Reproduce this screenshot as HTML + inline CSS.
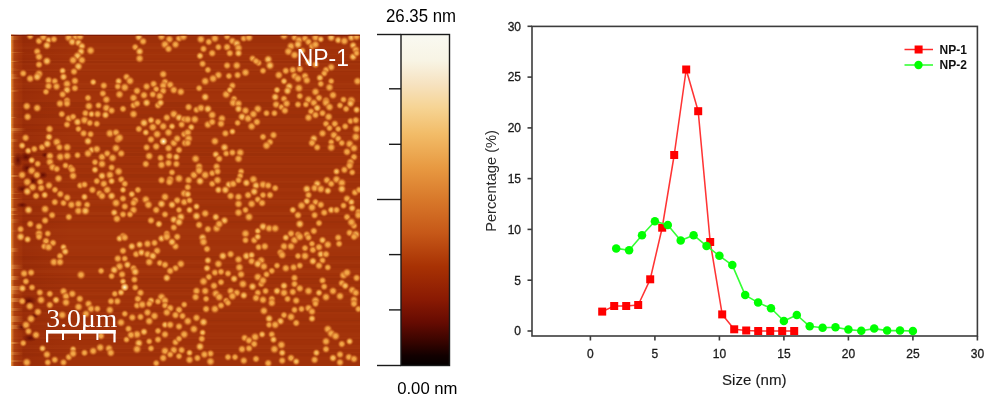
<!DOCTYPE html>
<html><head><meta charset="utf-8">
<style>
html,body{margin:0;padding:0;background:#fff;width:1000px;height:404px;overflow:hidden}
svg{position:absolute;left:0;top:0;will-change:transform}
text{font-family:"Liberation Sans",sans-serif}
</style></head><body>
<svg width="1000" height="404" viewBox="0 0 1000 404">
<defs>
<linearGradient id="cb" x1="0" y1="0" x2="0" y2="1">
<stop offset="0" stop-color="#f9f9f2"/>
<stop offset="0.08" stop-color="#f8f4e4"/>
<stop offset="0.15" stop-color="#f6e2c0"/>
<stop offset="0.22" stop-color="#f6d494"/>
<stop offset="0.3" stop-color="#f2bc68"/>
<stop offset="0.4" stop-color="#e89a42"/>
<stop offset="0.5" stop-color="#d8782a"/>
<stop offset="0.6" stop-color="#c65818"/>
<stop offset="0.7" stop-color="#a83204"/>
<stop offset="0.8" stop-color="#8a1a03"/>
<stop offset="0.87" stop-color="#660b02"/>
<stop offset="0.93" stop-color="#360400"/>
<stop offset="0.97" stop-color="#120000"/>
<stop offset="1" stop-color="#040000"/>
</linearGradient>
<radialGradient id="b1">
<stop offset="0" stop-color="#f4ae4e" stop-opacity="1"/>
<stop offset="0.33" stop-color="#ee9e40" stop-opacity="1"/>
<stop offset="0.58" stop-color="#dc7e2e" stop-opacity="0.75"/>
<stop offset="0.8" stop-color="#c65e1c" stop-opacity="0.32"/>
<stop offset="1" stop-color="#b84a10" stop-opacity="0"/>
</radialGradient>
<radialGradient id="b2">
<stop offset="0" stop-color="#f8c470" stop-opacity="1"/>
<stop offset="0.33" stop-color="#f2ac4c" stop-opacity="1"/>
<stop offset="0.58" stop-color="#de8432" stop-opacity="0.75"/>
<stop offset="0.8" stop-color="#c65e1c" stop-opacity="0.32"/>
<stop offset="1" stop-color="#b84a10" stop-opacity="0"/>
</radialGradient>
<radialGradient id="b3">
<stop offset="0" stop-color="#fffbe8" stop-opacity="1"/>
<stop offset="0.35" stop-color="#f8d080" stop-opacity="0.95"/>
<stop offset="1" stop-color="#e08030" stop-opacity="0"/>
</radialGradient>
<linearGradient id="edge" x1="0" y1="0" x2="1" y2="0">
<stop offset="0" stop-color="#f2a850" stop-opacity="1"/>
<stop offset="0.025" stop-color="#e08030" stop-opacity="0.75"/>
<stop offset="0.06" stop-color="#c05a18" stop-opacity="0.3"/>
<stop offset="0.14" stop-color="#c05a18" stop-opacity="0"/>
<stop offset="0.2" stop-color="#701000" stop-opacity="0.16"/>
<stop offset="0.6" stop-color="#701000" stop-opacity="0.07"/>
<stop offset="1" stop-color="#701000" stop-opacity="0"/>
</linearGradient>
<linearGradient id="edge2" x1="0" y1="0" x2="1" y2="0">
<stop offset="0" stop-color="#f5b060" stop-opacity="1"/>
<stop offset="1" stop-color="#e08030" stop-opacity="0"/>
</linearGradient>
<radialGradient id="dk">
<stop offset="0" stop-color="#500000" stop-opacity="0.75"/>
<stop offset="1" stop-color="#600800" stop-opacity="0"/>
</radialGradient>
<clipPath id="afmclip"><rect x="11" y="34.6" width="349" height="331.4"/></clipPath>
</defs>
<!-- AFM -->
<g id="afm" clip-path="url(#afmclip)">
<rect x="11" y="34.6" width="349" height="331.4" fill="#a2320a"/>
<rect x="11" y="34" width="60" height="332" fill="url(#edge)"/>
<rect x="11" y="34" width="349" height="1" fill="#000" opacity="0.006"/>
<rect x="11" y="35" width="349" height="2" fill="#ffb060" opacity="0.003"/>
<rect x="11" y="37" width="349" height="3" fill="#000" opacity="0.029"/>
<rect x="11" y="40" width="349" height="3" fill="#000" opacity="0.022"/>
<rect x="11" y="43" width="349" height="3" fill="#ffb060" opacity="0.008"/>
<rect x="11" y="46" width="349" height="1" fill="#ffb060" opacity="0.020"/>
<rect x="11" y="47" width="349" height="2" fill="#ffb060" opacity="0.030"/>
<rect x="11" y="49" width="349" height="3" fill="#000" opacity="0.013"/>
<rect x="11" y="52" width="349" height="2" fill="#ffb060" opacity="0.002"/>
<rect x="11" y="54" width="349" height="1" fill="#ffb060" opacity="0.033"/>
<rect x="11" y="55" width="349" height="3" fill="#ffb060" opacity="0.003"/>
<rect x="11" y="58" width="349" height="2" fill="#000" opacity="0.011"/>
<rect x="11" y="60" width="349" height="1" fill="#ffb060" opacity="0.034"/>
<rect x="11" y="61" width="349" height="2" fill="#000" opacity="0.026"/>
<rect x="11" y="63" width="349" height="2" fill="#ffb060" opacity="0.027"/>
<rect x="11" y="65" width="349" height="2" fill="#000" opacity="0.001"/>
<rect x="11" y="67" width="349" height="2" fill="#ffb060" opacity="0.006"/>
<rect x="11" y="69" width="349" height="2" fill="#ffb060" opacity="0.031"/>
<rect x="11" y="71" width="349" height="1" fill="#000" opacity="0.024"/>
<rect x="11" y="72" width="349" height="3" fill="#ffb060" opacity="0.008"/>
<rect x="11" y="75" width="349" height="2" fill="#000" opacity="0.013"/>
<rect x="11" y="77" width="349" height="3" fill="#000" opacity="0.006"/>
<rect x="11" y="80" width="349" height="1" fill="#000" opacity="0.009"/>
<rect x="11" y="81" width="349" height="2" fill="#ffb060" opacity="0.007"/>
<rect x="11" y="83" width="349" height="2" fill="#ffb060" opacity="0.034"/>
<rect x="11" y="85" width="349" height="3" fill="#ffb060" opacity="0.021"/>
<rect x="11" y="88" width="349" height="1" fill="#000" opacity="0.026"/>
<rect x="11" y="89" width="349" height="2" fill="#ffb060" opacity="0.035"/>
<rect x="11" y="91" width="349" height="2" fill="#000" opacity="0.003"/>
<rect x="11" y="93" width="349" height="1" fill="#ffb060" opacity="0.007"/>
<rect x="11" y="94" width="349" height="3" fill="#ffb060" opacity="0.013"/>
<rect x="11" y="97" width="349" height="2" fill="#ffb060" opacity="0.011"/>
<rect x="11" y="99" width="349" height="2" fill="#ffb060" opacity="0.023"/>
<rect x="11" y="101" width="349" height="1" fill="#ffb060" opacity="0.023"/>
<rect x="11" y="102" width="349" height="2" fill="#000" opacity="0.034"/>
<rect x="11" y="104" width="349" height="3" fill="#000" opacity="0.027"/>
<rect x="11" y="107" width="349" height="1" fill="#ffb060" opacity="0.007"/>
<rect x="11" y="108" width="349" height="2" fill="#000" opacity="0.023"/>
<rect x="11" y="110" width="349" height="1" fill="#000" opacity="0.018"/>
<rect x="11" y="111" width="349" height="3" fill="#000" opacity="0.009"/>
<rect x="11" y="114" width="349" height="1" fill="#000" opacity="0.034"/>
<rect x="11" y="115" width="349" height="3" fill="#000" opacity="0.033"/>
<rect x="11" y="118" width="349" height="3" fill="#ffb060" opacity="0.014"/>
<rect x="11" y="121" width="349" height="3" fill="#ffb060" opacity="0.019"/>
<rect x="11" y="124" width="349" height="2" fill="#000" opacity="0.022"/>
<rect x="11" y="126" width="349" height="3" fill="#ffb060" opacity="0.005"/>
<rect x="11" y="129" width="349" height="1" fill="#000" opacity="0.028"/>
<rect x="11" y="130" width="349" height="2" fill="#000" opacity="0.009"/>
<rect x="11" y="132" width="349" height="3" fill="#ffb060" opacity="0.027"/>
<rect x="11" y="135" width="349" height="1" fill="#000" opacity="0.007"/>
<rect x="11" y="136" width="349" height="3" fill="#ffb060" opacity="0.024"/>
<rect x="11" y="139" width="349" height="3" fill="#ffb060" opacity="0.015"/>
<rect x="11" y="142" width="349" height="3" fill="#000" opacity="0.014"/>
<rect x="11" y="145" width="349" height="2" fill="#ffb060" opacity="0.012"/>
<rect x="11" y="147" width="349" height="2" fill="#000" opacity="0.030"/>
<rect x="11" y="149" width="349" height="1" fill="#000" opacity="0.002"/>
<rect x="11" y="150" width="349" height="1" fill="#000" opacity="0.009"/>
<rect x="11" y="151" width="349" height="1" fill="#000" opacity="0.021"/>
<rect x="11" y="152" width="349" height="1" fill="#ffb060" opacity="0.020"/>
<rect x="11" y="153" width="349" height="2" fill="#000" opacity="0.030"/>
<rect x="11" y="155" width="349" height="1" fill="#000" opacity="0.034"/>
<rect x="11" y="156" width="349" height="1" fill="#ffb060" opacity="0.022"/>
<rect x="11" y="157" width="349" height="1" fill="#000" opacity="0.007"/>
<rect x="11" y="158" width="349" height="1" fill="#ffb060" opacity="0.006"/>
<rect x="11" y="159" width="349" height="2" fill="#000" opacity="0.001"/>
<rect x="11" y="161" width="349" height="2" fill="#ffb060" opacity="0.007"/>
<rect x="11" y="163" width="349" height="2" fill="#000" opacity="0.027"/>
<rect x="11" y="165" width="349" height="1" fill="#ffb060" opacity="0.025"/>
<rect x="11" y="166" width="349" height="2" fill="#ffb060" opacity="0.024"/>
<rect x="11" y="168" width="349" height="1" fill="#000" opacity="0.016"/>
<rect x="11" y="169" width="349" height="2" fill="#000" opacity="0.003"/>
<rect x="11" y="171" width="349" height="1" fill="#000" opacity="0.005"/>
<rect x="11" y="172" width="349" height="2" fill="#ffb060" opacity="0.010"/>
<rect x="11" y="174" width="349" height="1" fill="#000" opacity="0.031"/>
<rect x="11" y="175" width="349" height="2" fill="#000" opacity="0.029"/>
<rect x="11" y="177" width="349" height="1" fill="#000" opacity="0.022"/>
<rect x="11" y="178" width="349" height="3" fill="#000" opacity="0.001"/>
<rect x="11" y="181" width="349" height="1" fill="#ffb060" opacity="0.031"/>
<rect x="11" y="182" width="349" height="1" fill="#ffb060" opacity="0.019"/>
<rect x="11" y="183" width="349" height="1" fill="#000" opacity="0.020"/>
<rect x="11" y="184" width="349" height="1" fill="#000" opacity="0.010"/>
<rect x="11" y="185" width="349" height="3" fill="#000" opacity="0.016"/>
<rect x="11" y="188" width="349" height="3" fill="#ffb060" opacity="0.022"/>
<rect x="11" y="191" width="349" height="1" fill="#ffb060" opacity="0.008"/>
<rect x="11" y="192" width="349" height="3" fill="#000" opacity="0.009"/>
<rect x="11" y="195" width="349" height="2" fill="#000" opacity="0.001"/>
<rect x="11" y="197" width="349" height="1" fill="#ffb060" opacity="0.019"/>
<rect x="11" y="198" width="349" height="1" fill="#ffb060" opacity="0.003"/>
<rect x="11" y="199" width="349" height="1" fill="#000" opacity="0.028"/>
<rect x="11" y="200" width="349" height="2" fill="#ffb060" opacity="0.029"/>
<rect x="11" y="202" width="349" height="2" fill="#ffb060" opacity="0.016"/>
<rect x="11" y="204" width="349" height="2" fill="#ffb060" opacity="0.003"/>
<rect x="11" y="206" width="349" height="2" fill="#000" opacity="0.021"/>
<rect x="11" y="208" width="349" height="2" fill="#000" opacity="0.011"/>
<rect x="11" y="210" width="349" height="2" fill="#ffb060" opacity="0.004"/>
<rect x="11" y="212" width="349" height="3" fill="#ffb060" opacity="0.035"/>
<rect x="11" y="215" width="349" height="2" fill="#000" opacity="0.025"/>
<rect x="11" y="217" width="349" height="2" fill="#ffb060" opacity="0.012"/>
<rect x="11" y="219" width="349" height="2" fill="#ffb060" opacity="0.007"/>
<rect x="11" y="221" width="349" height="2" fill="#000" opacity="0.027"/>
<rect x="11" y="223" width="349" height="2" fill="#000" opacity="0.005"/>
<rect x="11" y="225" width="349" height="3" fill="#ffb060" opacity="0.007"/>
<rect x="11" y="228" width="349" height="1" fill="#ffb060" opacity="0.014"/>
<rect x="11" y="229" width="349" height="3" fill="#ffb060" opacity="0.031"/>
<rect x="11" y="232" width="349" height="3" fill="#ffb060" opacity="0.026"/>
<rect x="11" y="235" width="349" height="1" fill="#ffb060" opacity="0.008"/>
<rect x="11" y="236" width="349" height="2" fill="#ffb060" opacity="0.016"/>
<rect x="11" y="238" width="349" height="2" fill="#ffb060" opacity="0.028"/>
<rect x="11" y="240" width="349" height="1" fill="#ffb060" opacity="0.005"/>
<rect x="11" y="241" width="349" height="3" fill="#000" opacity="0.000"/>
<rect x="11" y="244" width="349" height="2" fill="#ffb060" opacity="0.013"/>
<rect x="11" y="246" width="349" height="3" fill="#ffb060" opacity="0.028"/>
<rect x="11" y="249" width="349" height="3" fill="#ffb060" opacity="0.020"/>
<rect x="11" y="252" width="349" height="3" fill="#ffb060" opacity="0.013"/>
<rect x="11" y="255" width="349" height="1" fill="#ffb060" opacity="0.025"/>
<rect x="11" y="256" width="349" height="2" fill="#000" opacity="0.031"/>
<rect x="11" y="258" width="349" height="2" fill="#000" opacity="0.021"/>
<rect x="11" y="260" width="349" height="2" fill="#ffb060" opacity="0.010"/>
<rect x="11" y="262" width="349" height="2" fill="#ffb060" opacity="0.029"/>
<rect x="11" y="264" width="349" height="2" fill="#000" opacity="0.006"/>
<rect x="11" y="266" width="349" height="2" fill="#000" opacity="0.025"/>
<rect x="11" y="268" width="349" height="2" fill="#ffb060" opacity="0.010"/>
<rect x="11" y="270" width="349" height="3" fill="#ffb060" opacity="0.034"/>
<rect x="11" y="273" width="349" height="2" fill="#ffb060" opacity="0.003"/>
<rect x="11" y="275" width="349" height="1" fill="#000" opacity="0.025"/>
<rect x="11" y="276" width="349" height="2" fill="#ffb060" opacity="0.018"/>
<rect x="11" y="278" width="349" height="2" fill="#000" opacity="0.030"/>
<rect x="11" y="280" width="349" height="1" fill="#000" opacity="0.005"/>
<rect x="11" y="281" width="349" height="2" fill="#000" opacity="0.016"/>
<rect x="11" y="283" width="349" height="1" fill="#000" opacity="0.023"/>
<rect x="11" y="284" width="349" height="3" fill="#ffb060" opacity="0.012"/>
<rect x="11" y="287" width="349" height="2" fill="#000" opacity="0.022"/>
<rect x="11" y="289" width="349" height="1" fill="#ffb060" opacity="0.023"/>
<rect x="11" y="290" width="349" height="2" fill="#000" opacity="0.012"/>
<rect x="11" y="292" width="349" height="2" fill="#ffb060" opacity="0.025"/>
<rect x="11" y="294" width="349" height="1" fill="#ffb060" opacity="0.031"/>
<rect x="11" y="295" width="349" height="1" fill="#ffb060" opacity="0.003"/>
<rect x="11" y="296" width="349" height="3" fill="#000" opacity="0.017"/>
<rect x="11" y="299" width="349" height="2" fill="#ffb060" opacity="0.000"/>
<rect x="11" y="301" width="349" height="2" fill="#ffb060" opacity="0.016"/>
<rect x="11" y="303" width="349" height="3" fill="#000" opacity="0.005"/>
<rect x="11" y="306" width="349" height="1" fill="#ffb060" opacity="0.015"/>
<rect x="11" y="307" width="349" height="1" fill="#000" opacity="0.003"/>
<rect x="11" y="308" width="349" height="1" fill="#000" opacity="0.009"/>
<rect x="11" y="309" width="349" height="2" fill="#000" opacity="0.028"/>
<rect x="11" y="311" width="349" height="1" fill="#000" opacity="0.033"/>
<rect x="11" y="312" width="349" height="2" fill="#ffb060" opacity="0.023"/>
<rect x="11" y="314" width="349" height="2" fill="#ffb060" opacity="0.006"/>
<rect x="11" y="316" width="349" height="2" fill="#ffb060" opacity="0.006"/>
<rect x="11" y="318" width="349" height="2" fill="#000" opacity="0.013"/>
<rect x="11" y="320" width="349" height="1" fill="#000" opacity="0.032"/>
<rect x="11" y="321" width="349" height="1" fill="#000" opacity="0.012"/>
<rect x="11" y="322" width="349" height="1" fill="#ffb060" opacity="0.003"/>
<rect x="11" y="323" width="349" height="2" fill="#ffb060" opacity="0.019"/>
<rect x="11" y="325" width="349" height="3" fill="#000" opacity="0.010"/>
<rect x="11" y="328" width="349" height="1" fill="#ffb060" opacity="0.007"/>
<rect x="11" y="329" width="349" height="3" fill="#000" opacity="0.008"/>
<rect x="11" y="332" width="349" height="1" fill="#ffb060" opacity="0.006"/>
<rect x="11" y="333" width="349" height="3" fill="#ffb060" opacity="0.018"/>
<rect x="11" y="336" width="349" height="1" fill="#ffb060" opacity="0.007"/>
<rect x="11" y="337" width="349" height="2" fill="#ffb060" opacity="0.028"/>
<rect x="11" y="339" width="349" height="1" fill="#000" opacity="0.023"/>
<rect x="11" y="340" width="349" height="1" fill="#000" opacity="0.009"/>
<rect x="11" y="341" width="349" height="2" fill="#000" opacity="0.002"/>
<rect x="11" y="343" width="349" height="2" fill="#000" opacity="0.012"/>
<rect x="11" y="345" width="349" height="3" fill="#ffb060" opacity="0.015"/>
<rect x="11" y="348" width="349" height="1" fill="#ffb060" opacity="0.030"/>
<rect x="11" y="349" width="349" height="1" fill="#000" opacity="0.024"/>
<rect x="11" y="350" width="349" height="2" fill="#000" opacity="0.008"/>
<rect x="11" y="352" width="349" height="1" fill="#ffb060" opacity="0.024"/>
<rect x="11" y="353" width="349" height="1" fill="#000" opacity="0.017"/>
<rect x="11" y="354" width="349" height="2" fill="#000" opacity="0.024"/>
<rect x="11" y="356" width="349" height="1" fill="#000" opacity="0.002"/>
<rect x="11" y="357" width="349" height="3" fill="#ffb060" opacity="0.010"/>
<rect x="11" y="360" width="349" height="2" fill="#000" opacity="0.013"/>
<rect x="11" y="362" width="349" height="3" fill="#000" opacity="0.016"/>
<rect x="11" y="34" width="7.8" height="2" fill="url(#edge2)" opacity="0.00"/>
<rect x="11" y="36" width="10.5" height="4" fill="url(#edge2)" opacity="0.32"/>
<rect x="11" y="40" width="9.1" height="2" fill="url(#edge2)" opacity="0.00"/>
<rect x="11" y="42" width="6.8" height="3" fill="url(#edge2)" opacity="0.00"/>
<rect x="11" y="45" width="7.1" height="1" fill="url(#edge2)" opacity="0.00"/>
<rect x="11" y="46" width="14.1" height="1" fill="url(#edge2)" opacity="0.00"/>
<rect x="11" y="47" width="9.3" height="3" fill="url(#edge2)" opacity="0.00"/>
<rect x="11" y="50" width="6.5" height="2" fill="url(#edge2)" opacity="0.00"/>
<rect x="11" y="52" width="14.8" height="1" fill="url(#edge2)" opacity="0.40"/>
<rect x="11" y="53" width="15.4" height="4" fill="url(#edge2)" opacity="0.00"/>
<rect x="11" y="57" width="14.2" height="2" fill="url(#edge2)" opacity="0.00"/>
<rect x="11" y="59" width="7.9" height="2" fill="url(#edge2)" opacity="0.00"/>
<rect x="11" y="61" width="8.7" height="1" fill="url(#edge2)" opacity="0.68"/>
<rect x="11" y="62" width="7.3" height="4" fill="url(#edge2)" opacity="0.00"/>
<rect x="11" y="66" width="5.9" height="2" fill="url(#edge2)" opacity="0.00"/>
<rect x="11" y="68" width="6.7" height="1" fill="url(#edge2)" opacity="0.19"/>
<rect x="11" y="69" width="11.3" height="2" fill="url(#edge2)" opacity="0.11"/>
<rect x="11" y="71" width="15.5" height="3" fill="url(#edge2)" opacity="0.00"/>
<rect x="11" y="74" width="6.9" height="3" fill="url(#edge2)" opacity="0.45"/>
<rect x="11" y="77" width="10.2" height="2" fill="url(#edge2)" opacity="0.51"/>
<rect x="11" y="79" width="13.0" height="4" fill="url(#edge2)" opacity="0.00"/>
<rect x="11" y="83" width="11.2" height="3" fill="url(#edge2)" opacity="0.00"/>
<rect x="11" y="86" width="12.9" height="1" fill="url(#edge2)" opacity="0.00"/>
<rect x="11" y="87" width="6.0" height="2" fill="url(#edge2)" opacity="0.16"/>
<rect x="11" y="89" width="7.0" height="1" fill="url(#edge2)" opacity="0.00"/>
<rect x="11" y="90" width="8.5" height="2" fill="url(#edge2)" opacity="0.50"/>
<rect x="11" y="92" width="5.7" height="2" fill="url(#edge2)" opacity="0.00"/>
<rect x="11" y="94" width="7.5" height="1" fill="url(#edge2)" opacity="0.00"/>
<rect x="11" y="95" width="9.9" height="3" fill="url(#edge2)" opacity="0.00"/>
<rect x="11" y="98" width="4.6" height="2" fill="url(#edge2)" opacity="0.00"/>
<rect x="11" y="100" width="15.3" height="2" fill="url(#edge2)" opacity="0.00"/>
<rect x="11" y="102" width="14.5" height="2" fill="url(#edge2)" opacity="0.00"/>
<rect x="11" y="104" width="8.5" height="4" fill="url(#edge2)" opacity="0.00"/>
<rect x="11" y="108" width="10.7" height="1" fill="url(#edge2)" opacity="0.00"/>
<rect x="11" y="109" width="11.9" height="2" fill="url(#edge2)" opacity="0.00"/>
<rect x="11" y="111" width="12.4" height="3" fill="url(#edge2)" opacity="0.00"/>
<rect x="11" y="114" width="9.5" height="2" fill="url(#edge2)" opacity="0.00"/>
<rect x="11" y="116" width="14.0" height="1" fill="url(#edge2)" opacity="0.00"/>
<rect x="11" y="117" width="6.2" height="1" fill="url(#edge2)" opacity="0.68"/>
<rect x="11" y="118" width="4.8" height="2" fill="url(#edge2)" opacity="0.00"/>
<rect x="11" y="120" width="10.3" height="4" fill="url(#edge2)" opacity="0.00"/>
<rect x="11" y="124" width="15.4" height="2" fill="url(#edge2)" opacity="0.00"/>
<rect x="11" y="126" width="10.1" height="1" fill="url(#edge2)" opacity="0.00"/>
<rect x="11" y="127" width="7.8" height="1" fill="url(#edge2)" opacity="0.00"/>
<rect x="11" y="128" width="15.3" height="3" fill="url(#edge2)" opacity="0.59"/>
<rect x="11" y="131" width="13.9" height="2" fill="url(#edge2)" opacity="0.19"/>
<rect x="11" y="133" width="13.4" height="4" fill="url(#edge2)" opacity="0.00"/>
<rect x="11" y="137" width="10.7" height="2" fill="url(#edge2)" opacity="0.00"/>
<rect x="11" y="139" width="7.7" height="3" fill="url(#edge2)" opacity="0.48"/>
<rect x="11" y="142" width="7.7" height="4" fill="url(#edge2)" opacity="0.00"/>
<rect x="11" y="146" width="12.2" height="2" fill="url(#edge2)" opacity="0.00"/>
<rect x="11" y="148" width="8.5" height="2" fill="url(#edge2)" opacity="0.00"/>
<rect x="11" y="150" width="14.8" height="2" fill="url(#edge2)" opacity="0.00"/>
<rect x="11" y="152" width="12.8" height="2" fill="url(#edge2)" opacity="0.00"/>
<rect x="11" y="154" width="9.6" height="2" fill="url(#edge2)" opacity="0.00"/>
<rect x="11" y="156" width="5.0" height="1" fill="url(#edge2)" opacity="0.57"/>
<rect x="11" y="157" width="12.9" height="3" fill="url(#edge2)" opacity="0.00"/>
<rect x="11" y="160" width="8.3" height="3" fill="url(#edge2)" opacity="0.00"/>
<rect x="11" y="163" width="4.4" height="2" fill="url(#edge2)" opacity="0.68"/>
<rect x="11" y="165" width="4.6" height="1" fill="url(#edge2)" opacity="0.30"/>
<rect x="11" y="166" width="10.4" height="3" fill="url(#edge2)" opacity="0.00"/>
<rect x="11" y="169" width="4.1" height="2" fill="url(#edge2)" opacity="0.00"/>
<rect x="11" y="171" width="7.7" height="2" fill="url(#edge2)" opacity="0.00"/>
<rect x="11" y="173" width="15.0" height="2" fill="url(#edge2)" opacity="0.00"/>
<rect x="11" y="175" width="11.2" height="2" fill="url(#edge2)" opacity="0.68"/>
<rect x="11" y="177" width="11.7" height="2" fill="url(#edge2)" opacity="0.00"/>
<rect x="11" y="179" width="14.2" height="2" fill="url(#edge2)" opacity="0.00"/>
<rect x="11" y="181" width="5.6" height="2" fill="url(#edge2)" opacity="0.00"/>
<rect x="11" y="183" width="12.8" height="2" fill="url(#edge2)" opacity="0.00"/>
<rect x="11" y="185" width="10.1" height="2" fill="url(#edge2)" opacity="0.00"/>
<rect x="11" y="187" width="9.0" height="1" fill="url(#edge2)" opacity="0.00"/>
<rect x="11" y="188" width="7.5" height="3" fill="url(#edge2)" opacity="0.16"/>
<rect x="11" y="191" width="4.9" height="2" fill="url(#edge2)" opacity="0.36"/>
<rect x="11" y="193" width="13.0" height="1" fill="url(#edge2)" opacity="0.37"/>
<rect x="11" y="194" width="13.8" height="1" fill="url(#edge2)" opacity="0.00"/>
<rect x="11" y="195" width="15.0" height="3" fill="url(#edge2)" opacity="0.00"/>
<rect x="11" y="198" width="11.2" height="1" fill="url(#edge2)" opacity="0.52"/>
<rect x="11" y="199" width="8.3" height="4" fill="url(#edge2)" opacity="0.00"/>
<rect x="11" y="203" width="10.7" height="1" fill="url(#edge2)" opacity="0.00"/>
<rect x="11" y="204" width="14.4" height="4" fill="url(#edge2)" opacity="0.00"/>
<rect x="11" y="208" width="7.1" height="3" fill="url(#edge2)" opacity="0.75"/>
<rect x="11" y="211" width="11.9" height="3" fill="url(#edge2)" opacity="0.00"/>
<rect x="11" y="214" width="7.7" height="1" fill="url(#edge2)" opacity="0.71"/>
<rect x="11" y="215" width="8.8" height="2" fill="url(#edge2)" opacity="0.00"/>
<rect x="11" y="217" width="8.4" height="2" fill="url(#edge2)" opacity="0.00"/>
<rect x="11" y="219" width="9.5" height="4" fill="url(#edge2)" opacity="0.35"/>
<rect x="11" y="223" width="7.0" height="4" fill="url(#edge2)" opacity="0.00"/>
<rect x="11" y="227" width="14.1" height="1" fill="url(#edge2)" opacity="0.00"/>
<rect x="11" y="228" width="7.6" height="2" fill="url(#edge2)" opacity="0.00"/>
<rect x="11" y="230" width="10.4" height="2" fill="url(#edge2)" opacity="0.16"/>
<rect x="11" y="232" width="14.4" height="4" fill="url(#edge2)" opacity="0.00"/>
<rect x="11" y="236" width="8.7" height="4" fill="url(#edge2)" opacity="0.00"/>
<rect x="11" y="240" width="4.7" height="4" fill="url(#edge2)" opacity="0.00"/>
<rect x="11" y="244" width="11.3" height="4" fill="url(#edge2)" opacity="0.00"/>
<rect x="11" y="248" width="8.2" height="4" fill="url(#edge2)" opacity="0.61"/>
<rect x="11" y="252" width="8.8" height="4" fill="url(#edge2)" opacity="0.00"/>
<rect x="11" y="256" width="8.5" height="3" fill="url(#edge2)" opacity="0.00"/>
<rect x="11" y="259" width="9.7" height="3" fill="url(#edge2)" opacity="0.00"/>
<rect x="11" y="262" width="12.7" height="2" fill="url(#edge2)" opacity="0.00"/>
<rect x="11" y="264" width="13.4" height="1" fill="url(#edge2)" opacity="0.18"/>
<rect x="11" y="265" width="12.8" height="4" fill="url(#edge2)" opacity="0.51"/>
<rect x="11" y="269" width="8.3" height="4" fill="url(#edge2)" opacity="0.00"/>
<rect x="11" y="273" width="12.0" height="3" fill="url(#edge2)" opacity="0.00"/>
<rect x="11" y="276" width="8.9" height="4" fill="url(#edge2)" opacity="0.77"/>
<rect x="11" y="280" width="8.7" height="4" fill="url(#edge2)" opacity="0.00"/>
<rect x="11" y="284" width="4.2" height="2" fill="url(#edge2)" opacity="0.00"/>
<rect x="11" y="286" width="14.8" height="4" fill="url(#edge2)" opacity="0.79"/>
<rect x="11" y="290" width="9.9" height="2" fill="url(#edge2)" opacity="0.51"/>
<rect x="11" y="292" width="10.8" height="2" fill="url(#edge2)" opacity="0.43"/>
<rect x="11" y="294" width="9.8" height="4" fill="url(#edge2)" opacity="0.00"/>
<rect x="11" y="298" width="14.0" height="4" fill="url(#edge2)" opacity="0.68"/>
<rect x="11" y="302" width="4.3" height="4" fill="url(#edge2)" opacity="0.00"/>
<rect x="11" y="306" width="11.8" height="2" fill="url(#edge2)" opacity="0.00"/>
<rect x="11" y="308" width="12.4" height="3" fill="url(#edge2)" opacity="0.47"/>
<rect x="11" y="311" width="15.0" height="2" fill="url(#edge2)" opacity="0.00"/>
<rect x="11" y="313" width="4.0" height="2" fill="url(#edge2)" opacity="0.00"/>
<rect x="11" y="315" width="14.0" height="1" fill="url(#edge2)" opacity="0.00"/>
<rect x="11" y="316" width="12.8" height="3" fill="url(#edge2)" opacity="0.60"/>
<rect x="11" y="319" width="13.7" height="3" fill="url(#edge2)" opacity="0.58"/>
<rect x="11" y="322" width="12.4" height="2" fill="url(#edge2)" opacity="0.00"/>
<rect x="11" y="324" width="11.4" height="1" fill="url(#edge2)" opacity="0.00"/>
<rect x="11" y="325" width="14.8" height="4" fill="url(#edge2)" opacity="0.52"/>
<rect x="11" y="329" width="6.6" height="2" fill="url(#edge2)" opacity="0.00"/>
<rect x="11" y="331" width="13.5" height="1" fill="url(#edge2)" opacity="0.00"/>
<rect x="11" y="332" width="13.1" height="4" fill="url(#edge2)" opacity="0.00"/>
<rect x="11" y="336" width="5.9" height="1" fill="url(#edge2)" opacity="0.00"/>
<rect x="11" y="337" width="8.8" height="4" fill="url(#edge2)" opacity="0.00"/>
<rect x="11" y="341" width="4.4" height="1" fill="url(#edge2)" opacity="0.00"/>
<rect x="11" y="342" width="9.7" height="2" fill="url(#edge2)" opacity="0.76"/>
<rect x="11" y="344" width="12.0" height="2" fill="url(#edge2)" opacity="0.00"/>
<rect x="11" y="346" width="9.5" height="2" fill="url(#edge2)" opacity="0.00"/>
<rect x="11" y="348" width="14.4" height="4" fill="url(#edge2)" opacity="0.00"/>
<rect x="11" y="352" width="12.4" height="3" fill="url(#edge2)" opacity="0.42"/>
<rect x="11" y="355" width="14.3" height="1" fill="url(#edge2)" opacity="0.00"/>
<rect x="11" y="356" width="4.3" height="2" fill="url(#edge2)" opacity="0.00"/>
<rect x="11" y="358" width="6.2" height="2" fill="url(#edge2)" opacity="0.00"/>
<rect x="11" y="360" width="15.6" height="2" fill="url(#edge2)" opacity="0.44"/>
<rect x="11" y="362" width="11.1" height="4" fill="url(#edge2)" opacity="0.00"/>
<ellipse cx="26" cy="157" rx="7" ry="5" fill="url(#dk)"/>
<ellipse cx="27" cy="168" rx="6" ry="5" fill="url(#dk)"/>
<ellipse cx="33" cy="181" rx="5" ry="5" fill="url(#dk)"/>
<ellipse cx="22" cy="189" rx="6" ry="4" fill="url(#dk)"/>
<ellipse cx="29" cy="301" rx="8" ry="5" fill="url(#dk)"/>
<ellipse cx="30" cy="338" rx="8" ry="4" fill="url(#dk)"/>
<ellipse cx="22" cy="205" rx="6" ry="3" fill="url(#dk)"/>
<ellipse cx="43" cy="175" rx="5" ry="4" fill="url(#dk)"/>
<ellipse cx="22" cy="327" rx="6" ry="4" fill="url(#dk)"/>
<ellipse cx="34" cy="316" rx="5" ry="3" fill="url(#dk)"/>
<ellipse cx="18" cy="160" rx="5" ry="8" fill="url(#dk)"/>
<ellipse cx="45" cy="155" rx="4" ry="3" fill="url(#dk)"/>
<circle cx="30.2" cy="36.1" r="4.5" fill="url(#b1)"/>
<circle cx="39.0" cy="41.0" r="4.7" fill="url(#b1)"/>
<circle cx="43.4" cy="37.1" r="4.9" fill="url(#b1)"/>
<circle cx="48.6" cy="40.1" r="4.3" fill="url(#b2)"/>
<circle cx="53.9" cy="39.2" r="4.6" fill="url(#b1)"/>
<circle cx="68.8" cy="37.5" r="5.3" fill="url(#b1)"/>
<circle cx="75.8" cy="36.6" r="5.1" fill="url(#b1)"/>
<circle cx="80.1" cy="36.6" r="4.9" fill="url(#b1)"/>
<circle cx="138.8" cy="37.1" r="4.9" fill="url(#b2)"/>
<circle cx="143.1" cy="41.4" r="4.8" fill="url(#b1)"/>
<circle cx="161.5" cy="36.6" r="5.0" fill="url(#b1)"/>
<circle cx="169.4" cy="39.2" r="5.1" fill="url(#b1)"/>
<circle cx="179.0" cy="38.4" r="4.6" fill="url(#b1)"/>
<circle cx="183.4" cy="36.6" r="5.2" fill="url(#b1)"/>
<circle cx="46.9" cy="45.4" r="5.0" fill="url(#b2)"/>
<circle cx="72.2" cy="41.9" r="5.0" fill="url(#b2)"/>
<circle cx="78.4" cy="42.8" r="4.7" fill="url(#b2)"/>
<circle cx="81.9" cy="46.2" r="4.7" fill="url(#b2)"/>
<circle cx="90.6" cy="50.6" r="5.2" fill="url(#b1)"/>
<circle cx="135.2" cy="47.1" r="4.4" fill="url(#b1)"/>
<circle cx="165.0" cy="44.5" r="5.3" fill="url(#b1)"/>
<circle cx="175.5" cy="44.5" r="4.9" fill="url(#b1)"/>
<circle cx="168.5" cy="48.9" r="4.8" fill="url(#b1)"/>
<circle cx="37.2" cy="51.5" r="4.7" fill="url(#b1)"/>
<circle cx="81.0" cy="51.5" r="4.9" fill="url(#b2)"/>
<circle cx="139.6" cy="51.5" r="5.0" fill="url(#b2)"/>
<circle cx="77.5" cy="55.9" r="5.2" fill="url(#b2)"/>
<circle cx="39.0" cy="56.8" r="5.0" fill="url(#b1)"/>
<circle cx="46.9" cy="61.1" r="5.2" fill="url(#b2)"/>
<circle cx="73.1" cy="60.2" r="5.2" fill="url(#b1)"/>
<circle cx="81.9" cy="60.2" r="5.0" fill="url(#b1)"/>
<circle cx="139.6" cy="58.5" r="5.1" fill="url(#b1)"/>
<circle cx="39.0" cy="64.6" r="4.6" fill="url(#b1)"/>
<circle cx="78.4" cy="66.4" r="5.2" fill="url(#b2)"/>
<circle cx="62.6" cy="70.8" r="4.4" fill="url(#b2)"/>
<circle cx="74.0" cy="71.6" r="4.7" fill="url(#b1)"/>
<circle cx="23.2" cy="73.4" r="4.6" fill="url(#b1)"/>
<circle cx="39.0" cy="73.9" r="5.2" fill="url(#b1)"/>
<circle cx="163.2" cy="74.2" r="4.9" fill="url(#b1)"/>
<circle cx="30.2" cy="78.6" r="5.0" fill="url(#b1)"/>
<circle cx="37.2" cy="76.9" r="5.2" fill="url(#b2)"/>
<circle cx="63.5" cy="76.9" r="4.8" fill="url(#b2)"/>
<circle cx="126.5" cy="76.9" r="4.6" fill="url(#b1)"/>
<circle cx="48.6" cy="80.4" r="4.9" fill="url(#b1)"/>
<circle cx="54.8" cy="81.2" r="4.5" fill="url(#b1)"/>
<circle cx="74.9" cy="80.9" r="4.9" fill="url(#b1)"/>
<circle cx="93.2" cy="82.1" r="4.3" fill="url(#b2)"/>
<circle cx="118.6" cy="81.2" r="4.6" fill="url(#b2)"/>
<circle cx="130.0" cy="80.9" r="5.2" fill="url(#b1)"/>
<circle cx="165.0" cy="82.1" r="4.8" fill="url(#b1)"/>
<circle cx="48.6" cy="86.2" r="4.9" fill="url(#b1)"/>
<circle cx="56.5" cy="86.5" r="4.9" fill="url(#b1)"/>
<circle cx="67.0" cy="83.9" r="5.2" fill="url(#b1)"/>
<circle cx="103.8" cy="85.6" r="4.7" fill="url(#b1)"/>
<circle cx="117.8" cy="86.5" r="4.5" fill="url(#b1)"/>
<circle cx="124.8" cy="87.4" r="5.3" fill="url(#b1)"/>
<circle cx="146.6" cy="86.5" r="4.8" fill="url(#b1)"/>
<circle cx="153.6" cy="83.9" r="4.7" fill="url(#b1)"/>
<circle cx="156.2" cy="89.1" r="4.3" fill="url(#b1)"/>
<circle cx="163.2" cy="85.6" r="4.9" fill="url(#b1)"/>
<circle cx="170.2" cy="84.8" r="4.9" fill="url(#b1)"/>
<circle cx="173.8" cy="90.0" r="5.0" fill="url(#b1)"/>
<circle cx="180.8" cy="91.8" r="5.0" fill="url(#b1)"/>
<circle cx="46.0" cy="91.8" r="4.3" fill="url(#b1)"/>
<circle cx="67.0" cy="90.0" r="5.0" fill="url(#b2)"/>
<circle cx="74.9" cy="88.2" r="4.6" fill="url(#b1)"/>
<circle cx="137.0" cy="90.9" r="4.9" fill="url(#b1)"/>
<circle cx="163.2" cy="90.9" r="4.7" fill="url(#b1)"/>
<circle cx="62.6" cy="94.4" r="4.7" fill="url(#b1)"/>
<circle cx="102.9" cy="93.5" r="4.6" fill="url(#b1)"/>
<circle cx="119.5" cy="94.4" r="5.1" fill="url(#b1)"/>
<circle cx="144.0" cy="95.2" r="4.9" fill="url(#b1)"/>
<circle cx="152.8" cy="94.4" r="4.6" fill="url(#b1)"/>
<circle cx="159.8" cy="96.1" r="5.1" fill="url(#b1)"/>
<circle cx="88.0" cy="97.9" r="4.5" fill="url(#b1)"/>
<circle cx="106.4" cy="99.6" r="5.0" fill="url(#b1)"/>
<circle cx="67.0" cy="100.5" r="4.6" fill="url(#b1)"/>
<circle cx="133.5" cy="97.9" r="5.1" fill="url(#b1)"/>
<circle cx="200.9" cy="39.2" r="5.2" fill="url(#b1)"/>
<circle cx="208.8" cy="41.9" r="4.6" fill="url(#b1)"/>
<circle cx="214.9" cy="38.4" r="5.2" fill="url(#b1)"/>
<circle cx="227.1" cy="36.6" r="4.5" fill="url(#b1)"/>
<circle cx="232.4" cy="41.0" r="4.8" fill="url(#b1)"/>
<circle cx="236.8" cy="43.6" r="5.1" fill="url(#b2)"/>
<circle cx="243.8" cy="38.4" r="4.5" fill="url(#b1)"/>
<circle cx="249.0" cy="37.5" r="5.1" fill="url(#b1)"/>
<circle cx="284.0" cy="35.8" r="5.1" fill="url(#b1)"/>
<circle cx="294.5" cy="37.5" r="4.4" fill="url(#b1)"/>
<circle cx="298.9" cy="40.1" r="5.1" fill="url(#b1)"/>
<circle cx="305.0" cy="38.4" r="4.6" fill="url(#b1)"/>
<circle cx="308.5" cy="41.9" r="4.7" fill="url(#b1)"/>
<circle cx="315.5" cy="37.5" r="5.2" fill="url(#b1)"/>
<circle cx="320.8" cy="39.2" r="4.3" fill="url(#b2)"/>
<circle cx="331.2" cy="37.5" r="5.2" fill="url(#b2)"/>
<circle cx="338.2" cy="40.1" r="4.7" fill="url(#b2)"/>
<circle cx="344.4" cy="41.0" r="5.2" fill="url(#b1)"/>
<circle cx="351.4" cy="37.5" r="5.0" fill="url(#b2)"/>
<circle cx="356.6" cy="36.6" r="5.0" fill="url(#b1)"/>
<circle cx="203.5" cy="48.9" r="4.6" fill="url(#b1)"/>
<circle cx="218.4" cy="47.1" r="4.5" fill="url(#b1)"/>
<circle cx="227.1" cy="47.1" r="4.9" fill="url(#b1)"/>
<circle cx="238.5" cy="48.0" r="5.1" fill="url(#b1)"/>
<circle cx="291.0" cy="46.2" r="5.2" fill="url(#b1)"/>
<circle cx="298.0" cy="44.5" r="5.2" fill="url(#b2)"/>
<circle cx="288.4" cy="51.5" r="5.2" fill="url(#b1)"/>
<circle cx="302.4" cy="50.6" r="4.3" fill="url(#b1)"/>
<circle cx="312.0" cy="46.2" r="4.5" fill="url(#b1)"/>
<circle cx="315.5" cy="44.5" r="5.0" fill="url(#b1)"/>
<circle cx="353.1" cy="45.4" r="4.7" fill="url(#b2)"/>
<circle cx="355.8" cy="49.8" r="4.9" fill="url(#b1)"/>
<circle cx="200.0" cy="55.9" r="4.6" fill="url(#b2)"/>
<circle cx="212.2" cy="53.2" r="4.8" fill="url(#b1)"/>
<circle cx="229.8" cy="53.2" r="4.7" fill="url(#b1)"/>
<circle cx="238.5" cy="53.2" r="4.8" fill="url(#b2)"/>
<circle cx="252.5" cy="58.5" r="4.5" fill="url(#b1)"/>
<circle cx="268.2" cy="59.4" r="5.2" fill="url(#b2)"/>
<circle cx="294.5" cy="55.0" r="5.1" fill="url(#b1)"/>
<circle cx="353.1" cy="56.8" r="4.9" fill="url(#b2)"/>
<circle cx="356.6" cy="53.2" r="4.3" fill="url(#b1)"/>
<circle cx="202.6" cy="63.8" r="4.6" fill="url(#b1)"/>
<circle cx="227.1" cy="65.5" r="4.7" fill="url(#b1)"/>
<circle cx="236.8" cy="65.5" r="5.1" fill="url(#b1)"/>
<circle cx="258.6" cy="62.9" r="4.4" fill="url(#b1)"/>
<circle cx="256.0" cy="61.1" r="4.4" fill="url(#b1)"/>
<circle cx="270.0" cy="65.5" r="5.3" fill="url(#b2)"/>
<circle cx="263.0" cy="70.8" r="4.4" fill="url(#b1)"/>
<circle cx="308.5" cy="62.0" r="4.6" fill="url(#b1)"/>
<circle cx="315.5" cy="64.6" r="4.7" fill="url(#b1)"/>
<circle cx="331.2" cy="67.2" r="4.9" fill="url(#b1)"/>
<circle cx="326.0" cy="69.9" r="4.5" fill="url(#b1)"/>
<circle cx="207.9" cy="69.9" r="4.4" fill="url(#b1)"/>
<circle cx="218.4" cy="75.1" r="5.0" fill="url(#b1)"/>
<circle cx="228.9" cy="76.0" r="4.4" fill="url(#b1)"/>
<circle cx="237.6" cy="75.1" r="4.7" fill="url(#b1)"/>
<circle cx="245.5" cy="72.5" r="5.1" fill="url(#b1)"/>
<circle cx="278.8" cy="75.1" r="5.1" fill="url(#b1)"/>
<circle cx="285.8" cy="70.8" r="4.7" fill="url(#b1)"/>
<circle cx="292.8" cy="69.9" r="4.8" fill="url(#b1)"/>
<circle cx="299.8" cy="69.0" r="4.7" fill="url(#b1)"/>
<circle cx="294.5" cy="76.0" r="4.8" fill="url(#b1)"/>
<circle cx="305.0" cy="76.0" r="4.8" fill="url(#b1)"/>
<circle cx="324.2" cy="73.4" r="4.4" fill="url(#b1)"/>
<circle cx="319.9" cy="77.8" r="4.7" fill="url(#b2)"/>
<circle cx="205.2" cy="81.2" r="5.2" fill="url(#b1)"/>
<circle cx="213.1" cy="78.6" r="5.2" fill="url(#b1)"/>
<circle cx="232.4" cy="85.6" r="4.6" fill="url(#b1)"/>
<circle cx="284.0" cy="81.2" r="4.4" fill="url(#b2)"/>
<circle cx="289.2" cy="86.5" r="5.0" fill="url(#b2)"/>
<circle cx="298.0" cy="78.6" r="5.1" fill="url(#b1)"/>
<circle cx="306.8" cy="80.4" r="5.0" fill="url(#b1)"/>
<circle cx="320.8" cy="83.9" r="4.4" fill="url(#b1)"/>
<circle cx="331.2" cy="81.2" r="4.3" fill="url(#b1)"/>
<circle cx="357.5" cy="81.2" r="5.1" fill="url(#b1)"/>
<circle cx="199.1" cy="88.2" r="4.4" fill="url(#b1)"/>
<circle cx="226.2" cy="94.4" r="5.2" fill="url(#b1)"/>
<circle cx="229.8" cy="90.0" r="4.3" fill="url(#b2)"/>
<circle cx="277.0" cy="90.0" r="4.4" fill="url(#b2)"/>
<circle cx="287.5" cy="90.9" r="5.0" fill="url(#b2)"/>
<circle cx="298.9" cy="88.2" r="5.3" fill="url(#b1)"/>
<circle cx="315.5" cy="91.8" r="5.1" fill="url(#b1)"/>
<circle cx="329.5" cy="87.4" r="5.1" fill="url(#b1)"/>
<circle cx="333.0" cy="95.2" r="5.0" fill="url(#b1)"/>
<circle cx="205.2" cy="97.0" r="5.0" fill="url(#b2)"/>
<circle cx="234.1" cy="98.8" r="4.4" fill="url(#b1)"/>
<circle cx="275.2" cy="97.0" r="4.9" fill="url(#b2)"/>
<circle cx="284.0" cy="98.8" r="4.5" fill="url(#b1)"/>
<circle cx="299.8" cy="96.1" r="4.5" fill="url(#b1)"/>
<circle cx="308.5" cy="99.6" r="5.1" fill="url(#b1)"/>
<circle cx="319.0" cy="97.9" r="4.7" fill="url(#b1)"/>
<circle cx="326.0" cy="100.5" r="4.7" fill="url(#b1)"/>
<circle cx="343.5" cy="99.6" r="4.4" fill="url(#b1)"/>
<circle cx="351.4" cy="100.5" r="5.3" fill="url(#b1)"/>
<circle cx="26.8" cy="106.2" r="5.0" fill="url(#b1)"/>
<circle cx="37.2" cy="108.0" r="5.0" fill="url(#b1)"/>
<circle cx="60.0" cy="103.6" r="5.0" fill="url(#b1)"/>
<circle cx="67.0" cy="103.6" r="4.8" fill="url(#b1)"/>
<circle cx="88.9" cy="106.2" r="5.2" fill="url(#b1)"/>
<circle cx="98.5" cy="105.4" r="4.4" fill="url(#b1)"/>
<circle cx="106.4" cy="108.0" r="5.2" fill="url(#b1)"/>
<circle cx="111.6" cy="110.6" r="4.7" fill="url(#b1)"/>
<circle cx="123.0" cy="108.9" r="4.5" fill="url(#b1)"/>
<circle cx="133.5" cy="105.4" r="4.5" fill="url(#b1)"/>
<circle cx="137.0" cy="103.6" r="4.6" fill="url(#b1)"/>
<circle cx="146.6" cy="102.8" r="5.0" fill="url(#b2)"/>
<circle cx="158.0" cy="105.4" r="4.6" fill="url(#b1)"/>
<circle cx="160.6" cy="102.8" r="4.7" fill="url(#b2)"/>
<circle cx="27.6" cy="116.8" r="4.9" fill="url(#b1)"/>
<circle cx="61.8" cy="114.1" r="4.5" fill="url(#b1)"/>
<circle cx="68.8" cy="118.5" r="4.8" fill="url(#b1)"/>
<circle cx="73.1" cy="116.8" r="4.5" fill="url(#b1)"/>
<circle cx="85.4" cy="113.2" r="4.6" fill="url(#b1)"/>
<circle cx="91.5" cy="114.1" r="4.4" fill="url(#b2)"/>
<circle cx="97.6" cy="114.1" r="4.8" fill="url(#b1)"/>
<circle cx="105.5" cy="115.0" r="4.8" fill="url(#b2)"/>
<circle cx="133.5" cy="114.1" r="5.1" fill="url(#b1)"/>
<circle cx="166.8" cy="117.6" r="4.8" fill="url(#b1)"/>
<circle cx="173.8" cy="114.1" r="5.2" fill="url(#b1)"/>
<circle cx="179.0" cy="117.6" r="5.0" fill="url(#b2)"/>
<circle cx="184.2" cy="119.4" r="4.8" fill="url(#b1)"/>
<circle cx="67.0" cy="124.6" r="4.5" fill="url(#b1)"/>
<circle cx="77.5" cy="122.0" r="5.0" fill="url(#b2)"/>
<circle cx="84.5" cy="120.2" r="5.2" fill="url(#b1)"/>
<circle cx="89.8" cy="122.9" r="4.5" fill="url(#b1)"/>
<circle cx="96.8" cy="123.8" r="4.5" fill="url(#b1)"/>
<circle cx="144.0" cy="122.9" r="5.2" fill="url(#b2)"/>
<circle cx="151.0" cy="120.2" r="4.6" fill="url(#b2)"/>
<circle cx="158.0" cy="122.0" r="4.6" fill="url(#b1)"/>
<circle cx="163.2" cy="126.4" r="5.0" fill="url(#b1)"/>
<circle cx="172.0" cy="126.4" r="4.4" fill="url(#b2)"/>
<circle cx="181.6" cy="124.6" r="4.6" fill="url(#b1)"/>
<circle cx="49.5" cy="129.0" r="4.9" fill="url(#b1)"/>
<circle cx="78.4" cy="129.0" r="4.3" fill="url(#b1)"/>
<circle cx="83.6" cy="133.4" r="4.7" fill="url(#b1)"/>
<circle cx="90.6" cy="134.2" r="4.5" fill="url(#b1)"/>
<circle cx="109.9" cy="133.4" r="5.3" fill="url(#b1)"/>
<circle cx="116.0" cy="132.5" r="4.8" fill="url(#b1)"/>
<circle cx="138.8" cy="129.0" r="4.6" fill="url(#b1)"/>
<circle cx="145.8" cy="132.5" r="4.4" fill="url(#b2)"/>
<circle cx="152.8" cy="127.2" r="5.2" fill="url(#b1)"/>
<circle cx="157.1" cy="134.2" r="5.2" fill="url(#b1)"/>
<circle cx="168.5" cy="132.5" r="5.1" fill="url(#b1)"/>
<circle cx="184.2" cy="134.2" r="4.6" fill="url(#b1)"/>
<circle cx="88.0" cy="141.2" r="5.0" fill="url(#b2)"/>
<circle cx="117.8" cy="139.5" r="4.6" fill="url(#b1)"/>
<circle cx="119.5" cy="137.8" r="5.3" fill="url(#b1)"/>
<circle cx="151.0" cy="139.5" r="4.8" fill="url(#b1)"/>
<circle cx="163.2" cy="141.2" r="4.8" fill="url(#b1)"/>
<circle cx="173.8" cy="143.0" r="5.0" fill="url(#b1)"/>
<circle cx="177.2" cy="138.6" r="4.9" fill="url(#b1)"/>
<circle cx="185.1" cy="143.0" r="4.9" fill="url(#b1)"/>
<circle cx="91.5" cy="150.0" r="4.5" fill="url(#b2)"/>
<circle cx="96.8" cy="149.1" r="5.0" fill="url(#b1)"/>
<circle cx="116.0" cy="148.2" r="5.2" fill="url(#b1)"/>
<circle cx="146.6" cy="147.4" r="4.6" fill="url(#b1)"/>
<circle cx="156.2" cy="146.5" r="4.9" fill="url(#b1)"/>
<circle cx="168.5" cy="148.2" r="4.9" fill="url(#b1)"/>
<circle cx="179.0" cy="150.0" r="4.6" fill="url(#b1)"/>
<circle cx="77.5" cy="155.2" r="4.4" fill="url(#b1)"/>
<circle cx="88.0" cy="153.5" r="5.1" fill="url(#b1)"/>
<circle cx="102.0" cy="157.0" r="5.0" fill="url(#b1)"/>
<circle cx="107.2" cy="153.5" r="4.6" fill="url(#b1)"/>
<circle cx="112.5" cy="157.9" r="5.2" fill="url(#b1)"/>
<circle cx="121.2" cy="153.5" r="4.8" fill="url(#b1)"/>
<circle cx="149.2" cy="156.1" r="5.1" fill="url(#b1)"/>
<circle cx="160.6" cy="157.9" r="4.6" fill="url(#b1)"/>
<circle cx="169.4" cy="156.1" r="4.8" fill="url(#b1)"/>
<circle cx="176.4" cy="157.0" r="4.7" fill="url(#b2)"/>
<circle cx="70.5" cy="167.5" r="4.4" fill="url(#b1)"/>
<circle cx="95.0" cy="162.2" r="4.4" fill="url(#b1)"/>
<circle cx="102.0" cy="164.0" r="5.1" fill="url(#b1)"/>
<circle cx="111.6" cy="167.5" r="4.5" fill="url(#b1)"/>
<circle cx="145.8" cy="164.0" r="4.7" fill="url(#b1)"/>
<circle cx="161.5" cy="164.9" r="5.1" fill="url(#b1)"/>
<circle cx="168.5" cy="163.1" r="4.9" fill="url(#b1)"/>
<circle cx="176.4" cy="164.0" r="4.7" fill="url(#b1)"/>
<circle cx="188.6" cy="107.1" r="4.8" fill="url(#b1)"/>
<circle cx="196.5" cy="109.8" r="4.5" fill="url(#b1)"/>
<circle cx="200.9" cy="108.0" r="5.1" fill="url(#b1)"/>
<circle cx="207.9" cy="108.9" r="5.1" fill="url(#b2)"/>
<circle cx="233.2" cy="102.8" r="5.2" fill="url(#b1)"/>
<circle cx="238.5" cy="103.6" r="4.9" fill="url(#b1)"/>
<circle cx="238.5" cy="108.9" r="4.9" fill="url(#b2)"/>
<circle cx="245.5" cy="110.6" r="5.0" fill="url(#b1)"/>
<circle cx="257.8" cy="108.9" r="5.2" fill="url(#b1)"/>
<circle cx="276.1" cy="104.5" r="4.9" fill="url(#b1)"/>
<circle cx="281.4" cy="107.1" r="4.3" fill="url(#b1)"/>
<circle cx="286.6" cy="103.6" r="5.0" fill="url(#b1)"/>
<circle cx="284.9" cy="110.6" r="4.8" fill="url(#b1)"/>
<circle cx="298.0" cy="104.5" r="4.5" fill="url(#b1)"/>
<circle cx="305.9" cy="104.5" r="4.3" fill="url(#b1)"/>
<circle cx="313.8" cy="102.8" r="4.9" fill="url(#b1)"/>
<circle cx="317.2" cy="108.0" r="4.9" fill="url(#b2)"/>
<circle cx="326.0" cy="102.8" r="5.2" fill="url(#b1)"/>
<circle cx="329.5" cy="107.1" r="5.1" fill="url(#b1)"/>
<circle cx="340.0" cy="105.4" r="4.4" fill="url(#b1)"/>
<circle cx="346.1" cy="108.9" r="4.5" fill="url(#b1)"/>
<circle cx="350.5" cy="103.6" r="4.8" fill="url(#b2)"/>
<circle cx="356.6" cy="109.8" r="4.6" fill="url(#b2)"/>
<circle cx="187.8" cy="119.4" r="5.0" fill="url(#b1)"/>
<circle cx="194.8" cy="119.4" r="5.2" fill="url(#b1)"/>
<circle cx="212.2" cy="115.0" r="5.2" fill="url(#b1)"/>
<circle cx="221.9" cy="118.5" r="5.0" fill="url(#b1)"/>
<circle cx="242.0" cy="116.8" r="5.1" fill="url(#b2)"/>
<circle cx="248.1" cy="118.5" r="5.2" fill="url(#b1)"/>
<circle cx="253.4" cy="114.1" r="5.1" fill="url(#b1)"/>
<circle cx="266.5" cy="113.2" r="4.4" fill="url(#b1)"/>
<circle cx="274.4" cy="113.2" r="4.4" fill="url(#b1)"/>
<circle cx="311.1" cy="111.5" r="4.5" fill="url(#b1)"/>
<circle cx="308.5" cy="117.6" r="5.0" fill="url(#b1)"/>
<circle cx="315.5" cy="115.0" r="4.7" fill="url(#b1)"/>
<circle cx="322.5" cy="113.2" r="4.6" fill="url(#b1)"/>
<circle cx="328.6" cy="116.8" r="5.1" fill="url(#b1)"/>
<circle cx="191.2" cy="127.2" r="4.5" fill="url(#b2)"/>
<circle cx="207.9" cy="124.6" r="5.0" fill="url(#b1)"/>
<circle cx="212.2" cy="122.0" r="4.7" fill="url(#b1)"/>
<circle cx="221.0" cy="123.8" r="4.9" fill="url(#b1)"/>
<circle cx="237.6" cy="122.9" r="4.3" fill="url(#b1)"/>
<circle cx="251.6" cy="126.4" r="5.1" fill="url(#b1)"/>
<circle cx="256.9" cy="122.0" r="4.8" fill="url(#b1)"/>
<circle cx="326.0" cy="123.8" r="4.5" fill="url(#b1)"/>
<circle cx="334.8" cy="123.8" r="4.7" fill="url(#b1)"/>
<circle cx="338.2" cy="129.0" r="4.3" fill="url(#b1)"/>
<circle cx="345.2" cy="126.4" r="4.5" fill="url(#b1)"/>
<circle cx="350.5" cy="121.1" r="4.4" fill="url(#b1)"/>
<circle cx="355.8" cy="120.2" r="4.7" fill="url(#b1)"/>
<circle cx="187.8" cy="132.5" r="5.0" fill="url(#b1)"/>
<circle cx="225.4" cy="133.4" r="4.7" fill="url(#b1)"/>
<circle cx="232.4" cy="131.6" r="4.3" fill="url(#b2)"/>
<circle cx="263.0" cy="136.9" r="4.5" fill="url(#b1)"/>
<circle cx="273.5" cy="135.1" r="4.8" fill="url(#b1)"/>
<circle cx="322.5" cy="133.4" r="4.9" fill="url(#b1)"/>
<circle cx="329.5" cy="128.1" r="4.4" fill="url(#b1)"/>
<circle cx="333.9" cy="135.1" r="5.0" fill="url(#b1)"/>
<circle cx="356.6" cy="129.0" r="5.1" fill="url(#b1)"/>
<circle cx="188.6" cy="138.6" r="5.2" fill="url(#b1)"/>
<circle cx="187.8" cy="143.0" r="4.5" fill="url(#b1)"/>
<circle cx="214.9" cy="141.2" r="5.1" fill="url(#b1)"/>
<circle cx="270.0" cy="142.1" r="4.6" fill="url(#b1)"/>
<circle cx="313.8" cy="138.6" r="5.0" fill="url(#b2)"/>
<circle cx="312.0" cy="143.0" r="4.9" fill="url(#b1)"/>
<circle cx="331.2" cy="142.1" r="4.3" fill="url(#b1)"/>
<circle cx="338.2" cy="138.6" r="4.5" fill="url(#b1)"/>
<circle cx="341.8" cy="143.0" r="4.4" fill="url(#b1)"/>
<circle cx="349.6" cy="143.9" r="5.2" fill="url(#b1)"/>
<circle cx="355.8" cy="136.9" r="5.3" fill="url(#b1)"/>
<circle cx="224.5" cy="147.4" r="5.1" fill="url(#b2)"/>
<circle cx="266.5" cy="145.6" r="5.2" fill="url(#b1)"/>
<circle cx="317.2" cy="147.4" r="4.6" fill="url(#b1)"/>
<circle cx="331.2" cy="147.4" r="5.2" fill="url(#b1)"/>
<circle cx="215.8" cy="154.4" r="4.6" fill="url(#b2)"/>
<circle cx="226.2" cy="153.5" r="4.4" fill="url(#b1)"/>
<circle cx="232.4" cy="152.6" r="4.6" fill="url(#b1)"/>
<circle cx="240.2" cy="152.6" r="5.2" fill="url(#b1)"/>
<circle cx="347.0" cy="151.8" r="5.0" fill="url(#b1)"/>
<circle cx="354.0" cy="148.2" r="5.1" fill="url(#b1)"/>
<circle cx="195.6" cy="158.8" r="5.2" fill="url(#b1)"/>
<circle cx="219.2" cy="158.8" r="4.7" fill="url(#b1)"/>
<circle cx="238.5" cy="158.8" r="5.1" fill="url(#b1)"/>
<circle cx="354.0" cy="157.0" r="4.6" fill="url(#b1)"/>
<circle cx="350.5" cy="162.2" r="5.0" fill="url(#b1)"/>
<circle cx="199.1" cy="166.6" r="5.0" fill="url(#b1)"/>
<circle cx="216.6" cy="166.6" r="4.8" fill="url(#b1)"/>
<circle cx="349.6" cy="165.8" r="5.0" fill="url(#b1)"/>
<circle cx="72.2" cy="169.8" r="4.8" fill="url(#b1)"/>
<circle cx="73.1" cy="175.9" r="5.0" fill="url(#b1)"/>
<circle cx="95.0" cy="169.8" r="4.5" fill="url(#b2)"/>
<circle cx="102.0" cy="175.9" r="4.9" fill="url(#b2)"/>
<circle cx="109.9" cy="175.0" r="5.2" fill="url(#b1)"/>
<circle cx="118.6" cy="171.5" r="5.2" fill="url(#b1)"/>
<circle cx="121.2" cy="179.4" r="4.6" fill="url(#b1)"/>
<circle cx="172.0" cy="172.4" r="4.4" fill="url(#b1)"/>
<circle cx="179.0" cy="178.5" r="5.3" fill="url(#b1)"/>
<circle cx="170.2" cy="179.4" r="4.9" fill="url(#b1)"/>
<circle cx="80.1" cy="185.5" r="4.4" fill="url(#b1)"/>
<circle cx="84.5" cy="184.6" r="4.5" fill="url(#b1)"/>
<circle cx="96.8" cy="181.1" r="4.5" fill="url(#b1)"/>
<circle cx="103.8" cy="183.8" r="4.9" fill="url(#b1)"/>
<circle cx="111.6" cy="181.1" r="4.5" fill="url(#b2)"/>
<circle cx="124.8" cy="183.8" r="4.5" fill="url(#b1)"/>
<circle cx="161.5" cy="180.2" r="4.7" fill="url(#b1)"/>
<circle cx="169.4" cy="182.0" r="4.9" fill="url(#b1)"/>
<circle cx="92.4" cy="189.9" r="4.8" fill="url(#b1)"/>
<circle cx="99.4" cy="193.4" r="4.5" fill="url(#b1)"/>
<circle cx="107.2" cy="189.9" r="5.1" fill="url(#b1)"/>
<circle cx="123.0" cy="189.9" r="4.3" fill="url(#b2)"/>
<circle cx="131.8" cy="194.2" r="4.5" fill="url(#b2)"/>
<circle cx="137.9" cy="189.9" r="4.4" fill="url(#b1)"/>
<circle cx="84.5" cy="196.9" r="4.5" fill="url(#b2)"/>
<circle cx="102.0" cy="196.0" r="4.9" fill="url(#b1)"/>
<circle cx="111.6" cy="196.0" r="5.1" fill="url(#b2)"/>
<circle cx="123.0" cy="198.6" r="4.6" fill="url(#b1)"/>
<circle cx="135.2" cy="200.4" r="4.7" fill="url(#b1)"/>
<circle cx="145.8" cy="199.5" r="5.1" fill="url(#b1)"/>
<circle cx="165.0" cy="196.9" r="5.1" fill="url(#b1)"/>
<circle cx="177.2" cy="200.4" r="4.8" fill="url(#b1)"/>
<circle cx="184.2" cy="193.4" r="5.0" fill="url(#b1)"/>
<circle cx="54.8" cy="202.1" r="4.6" fill="url(#b1)"/>
<circle cx="63.5" cy="203.0" r="4.4" fill="url(#b1)"/>
<circle cx="71.4" cy="204.8" r="5.0" fill="url(#b1)"/>
<circle cx="78.4" cy="203.9" r="4.9" fill="url(#b1)"/>
<circle cx="87.1" cy="204.8" r="4.5" fill="url(#b1)"/>
<circle cx="116.0" cy="203.0" r="5.3" fill="url(#b1)"/>
<circle cx="124.8" cy="206.5" r="4.7" fill="url(#b1)"/>
<circle cx="133.5" cy="203.0" r="4.5" fill="url(#b1)"/>
<circle cx="148.4" cy="204.8" r="5.2" fill="url(#b1)"/>
<circle cx="161.5" cy="203.9" r="5.2" fill="url(#b2)"/>
<circle cx="172.0" cy="204.8" r="4.9" fill="url(#b2)"/>
<circle cx="184.2" cy="202.1" r="4.8" fill="url(#b1)"/>
<circle cx="28.5" cy="210.0" r="5.2" fill="url(#b2)"/>
<circle cx="45.1" cy="209.1" r="5.2" fill="url(#b1)"/>
<circle cx="78.4" cy="210.9" r="5.1" fill="url(#b1)"/>
<circle cx="85.4" cy="210.9" r="5.3" fill="url(#b2)"/>
<circle cx="114.2" cy="212.6" r="4.6" fill="url(#b2)"/>
<circle cx="123.0" cy="214.4" r="4.5" fill="url(#b1)"/>
<circle cx="133.5" cy="210.0" r="5.0" fill="url(#b1)"/>
<circle cx="156.2" cy="210.0" r="4.8" fill="url(#b1)"/>
<circle cx="179.0" cy="210.0" r="4.3" fill="url(#b1)"/>
<circle cx="52.1" cy="215.2" r="4.6" fill="url(#b1)"/>
<circle cx="68.8" cy="217.0" r="4.6" fill="url(#b1)"/>
<circle cx="116.9" cy="218.8" r="5.0" fill="url(#b1)"/>
<circle cx="130.0" cy="214.4" r="4.4" fill="url(#b1)"/>
<circle cx="151.0" cy="220.5" r="4.7" fill="url(#b1)"/>
<circle cx="165.0" cy="214.4" r="4.5" fill="url(#b1)"/>
<circle cx="173.8" cy="219.6" r="5.0" fill="url(#b2)"/>
<circle cx="180.8" cy="217.0" r="5.3" fill="url(#b2)"/>
<circle cx="45.1" cy="220.5" r="4.7" fill="url(#b1)"/>
<circle cx="30.2" cy="224.0" r="4.6" fill="url(#b1)"/>
<circle cx="39.0" cy="226.6" r="4.8" fill="url(#b1)"/>
<circle cx="158.9" cy="224.0" r="4.7" fill="url(#b2)"/>
<circle cx="173.8" cy="227.5" r="4.6" fill="url(#b1)"/>
<circle cx="179.0" cy="222.2" r="5.2" fill="url(#b2)"/>
<circle cx="20.6" cy="229.2" r="4.6" fill="url(#b1)"/>
<circle cx="39.0" cy="233.6" r="5.1" fill="url(#b1)"/>
<circle cx="47.8" cy="233.6" r="4.4" fill="url(#b1)"/>
<circle cx="123.0" cy="236.2" r="4.8" fill="url(#b1)"/>
<circle cx="166.8" cy="233.6" r="4.4" fill="url(#b1)"/>
<circle cx="193.9" cy="175.0" r="5.1" fill="url(#b1)"/>
<circle cx="199.1" cy="170.6" r="5.3" fill="url(#b1)"/>
<circle cx="205.2" cy="175.0" r="5.3" fill="url(#b1)"/>
<circle cx="212.2" cy="173.2" r="4.5" fill="url(#b1)"/>
<circle cx="217.5" cy="171.5" r="4.7" fill="url(#b1)"/>
<circle cx="241.1" cy="171.5" r="4.4" fill="url(#b1)"/>
<circle cx="240.2" cy="175.9" r="4.4" fill="url(#b1)"/>
<circle cx="336.5" cy="171.5" r="4.5" fill="url(#b2)"/>
<circle cx="344.4" cy="169.8" r="4.7" fill="url(#b1)"/>
<circle cx="352.2" cy="172.4" r="4.3" fill="url(#b1)"/>
<circle cx="188.6" cy="180.2" r="4.9" fill="url(#b1)"/>
<circle cx="200.0" cy="181.1" r="5.2" fill="url(#b2)"/>
<circle cx="212.2" cy="183.8" r="4.5" fill="url(#b1)"/>
<circle cx="217.5" cy="180.2" r="5.1" fill="url(#b1)"/>
<circle cx="228.9" cy="184.6" r="4.8" fill="url(#b2)"/>
<circle cx="233.2" cy="183.8" r="4.9" fill="url(#b1)"/>
<circle cx="238.5" cy="180.2" r="4.5" fill="url(#b1)"/>
<circle cx="246.4" cy="182.9" r="4.9" fill="url(#b2)"/>
<circle cx="253.4" cy="179.4" r="5.2" fill="url(#b1)"/>
<circle cx="256.0" cy="185.5" r="5.0" fill="url(#b2)"/>
<circle cx="263.0" cy="184.6" r="5.1" fill="url(#b1)"/>
<circle cx="268.2" cy="185.5" r="4.7" fill="url(#b1)"/>
<circle cx="275.2" cy="188.1" r="4.5" fill="url(#b1)"/>
<circle cx="317.2" cy="183.8" r="5.0" fill="url(#b2)"/>
<circle cx="326.9" cy="180.2" r="4.8" fill="url(#b1)"/>
<circle cx="331.2" cy="183.8" r="4.7" fill="url(#b1)"/>
<circle cx="336.5" cy="179.4" r="5.1" fill="url(#b1)"/>
<circle cx="341.8" cy="182.9" r="5.3" fill="url(#b1)"/>
<circle cx="187.8" cy="187.2" r="4.6" fill="url(#b1)"/>
<circle cx="218.4" cy="189.9" r="4.7" fill="url(#b2)"/>
<circle cx="225.4" cy="189.9" r="5.1" fill="url(#b2)"/>
<circle cx="230.6" cy="196.0" r="4.9" fill="url(#b1)"/>
<circle cx="238.5" cy="196.9" r="4.9" fill="url(#b1)"/>
<circle cx="248.1" cy="195.1" r="4.8" fill="url(#b1)"/>
<circle cx="254.2" cy="191.6" r="5.0" fill="url(#b2)"/>
<circle cx="263.0" cy="195.1" r="4.4" fill="url(#b1)"/>
<circle cx="270.0" cy="195.1" r="4.7" fill="url(#b1)"/>
<circle cx="306.8" cy="189.0" r="5.2" fill="url(#b2)"/>
<circle cx="314.6" cy="188.1" r="4.9" fill="url(#b1)"/>
<circle cx="320.8" cy="189.0" r="5.2" fill="url(#b1)"/>
<circle cx="327.8" cy="190.8" r="4.7" fill="url(#b2)"/>
<circle cx="308.5" cy="195.1" r="4.6" fill="url(#b1)"/>
<circle cx="341.8" cy="189.0" r="5.2" fill="url(#b2)"/>
<circle cx="354.9" cy="192.5" r="4.6" fill="url(#b1)"/>
<circle cx="359.2" cy="189.9" r="4.6" fill="url(#b1)"/>
<circle cx="187.8" cy="194.2" r="4.6" fill="url(#b2)"/>
<circle cx="189.5" cy="200.4" r="4.4" fill="url(#b1)"/>
<circle cx="257.8" cy="199.5" r="4.5" fill="url(#b1)"/>
<circle cx="262.1" cy="203.0" r="4.8" fill="url(#b1)"/>
<circle cx="238.5" cy="203.9" r="5.1" fill="url(#b1)"/>
<circle cx="251.6" cy="203.9" r="5.1" fill="url(#b1)"/>
<circle cx="306.8" cy="201.2" r="4.6" fill="url(#b2)"/>
<circle cx="315.5" cy="202.1" r="4.4" fill="url(#b1)"/>
<circle cx="320.8" cy="204.8" r="4.8" fill="url(#b1)"/>
<circle cx="347.0" cy="198.6" r="4.8" fill="url(#b1)"/>
<circle cx="351.4" cy="202.1" r="4.5" fill="url(#b2)"/>
<circle cx="196.5" cy="206.5" r="4.4" fill="url(#b2)"/>
<circle cx="189.5" cy="210.0" r="4.5" fill="url(#b2)"/>
<circle cx="205.2" cy="213.5" r="5.0" fill="url(#b1)"/>
<circle cx="245.5" cy="210.0" r="4.4" fill="url(#b1)"/>
<circle cx="238.5" cy="212.6" r="5.1" fill="url(#b1)"/>
<circle cx="292.8" cy="210.0" r="4.5" fill="url(#b2)"/>
<circle cx="301.5" cy="205.6" r="5.2" fill="url(#b1)"/>
<circle cx="312.0" cy="207.4" r="5.3" fill="url(#b1)"/>
<circle cx="324.2" cy="212.6" r="4.7" fill="url(#b1)"/>
<circle cx="331.2" cy="210.0" r="4.7" fill="url(#b2)"/>
<circle cx="336.5" cy="210.0" r="4.6" fill="url(#b1)"/>
<circle cx="343.5" cy="205.6" r="4.4" fill="url(#b1)"/>
<circle cx="352.2" cy="208.2" r="4.7" fill="url(#b2)"/>
<circle cx="358.4" cy="211.8" r="4.4" fill="url(#b1)"/>
<circle cx="196.5" cy="216.1" r="5.2" fill="url(#b2)"/>
<circle cx="249.0" cy="217.0" r="5.3" fill="url(#b1)"/>
<circle cx="215.8" cy="217.0" r="4.7" fill="url(#b2)"/>
<circle cx="298.0" cy="215.2" r="4.8" fill="url(#b1)"/>
<circle cx="314.6" cy="215.2" r="4.6" fill="url(#b1)"/>
<circle cx="347.0" cy="217.0" r="4.6" fill="url(#b1)"/>
<circle cx="358.4" cy="215.2" r="5.1" fill="url(#b1)"/>
<circle cx="199.1" cy="224.9" r="4.8" fill="url(#b1)"/>
<circle cx="207.9" cy="229.2" r="4.7" fill="url(#b1)"/>
<circle cx="216.6" cy="228.4" r="5.1" fill="url(#b1)"/>
<circle cx="224.5" cy="220.5" r="4.9" fill="url(#b2)"/>
<circle cx="219.2" cy="224.0" r="5.1" fill="url(#b1)"/>
<circle cx="299.8" cy="224.0" r="5.3" fill="url(#b2)"/>
<circle cx="319.0" cy="223.1" r="4.5" fill="url(#b1)"/>
<circle cx="354.0" cy="225.8" r="4.5" fill="url(#b1)"/>
<circle cx="351.4" cy="222.2" r="5.3" fill="url(#b1)"/>
<circle cx="245.5" cy="233.6" r="5.2" fill="url(#b1)"/>
<circle cx="257.8" cy="231.0" r="4.3" fill="url(#b2)"/>
<circle cx="263.0" cy="226.6" r="5.1" fill="url(#b2)"/>
<circle cx="269.1" cy="228.4" r="5.0" fill="url(#b1)"/>
<circle cx="275.2" cy="228.4" r="5.1" fill="url(#b1)"/>
<circle cx="291.0" cy="233.6" r="4.8" fill="url(#b1)"/>
<circle cx="298.0" cy="234.5" r="4.4" fill="url(#b1)"/>
<circle cx="306.8" cy="234.5" r="4.6" fill="url(#b1)"/>
<circle cx="313.8" cy="231.0" r="4.7" fill="url(#b1)"/>
<circle cx="349.6" cy="232.8" r="4.7" fill="url(#b1)"/>
<circle cx="355.8" cy="234.5" r="5.3" fill="url(#b2)"/>
<circle cx="20.6" cy="236.8" r="5.2" fill="url(#b2)"/>
<circle cx="27.6" cy="239.4" r="4.6" fill="url(#b2)"/>
<circle cx="39.0" cy="236.8" r="4.6" fill="url(#b1)"/>
<circle cx="46.0" cy="241.1" r="4.8" fill="url(#b1)"/>
<circle cx="53.0" cy="242.9" r="4.6" fill="url(#b1)"/>
<circle cx="119.5" cy="238.5" r="4.6" fill="url(#b2)"/>
<circle cx="124.8" cy="237.6" r="4.8" fill="url(#b1)"/>
<circle cx="161.5" cy="238.5" r="4.8" fill="url(#b2)"/>
<circle cx="166.8" cy="236.8" r="5.3" fill="url(#b1)"/>
<circle cx="177.2" cy="236.8" r="4.7" fill="url(#b1)"/>
<circle cx="44.2" cy="246.4" r="4.4" fill="url(#b1)"/>
<circle cx="48.6" cy="247.2" r="5.1" fill="url(#b1)"/>
<circle cx="63.5" cy="247.2" r="4.4" fill="url(#b2)"/>
<circle cx="65.2" cy="251.6" r="4.7" fill="url(#b2)"/>
<circle cx="123.0" cy="250.8" r="4.7" fill="url(#b1)"/>
<circle cx="131.8" cy="246.4" r="4.8" fill="url(#b2)"/>
<circle cx="139.6" cy="244.6" r="4.7" fill="url(#b2)"/>
<circle cx="147.5" cy="243.8" r="5.0" fill="url(#b1)"/>
<circle cx="154.5" cy="242.9" r="4.6" fill="url(#b1)"/>
<circle cx="175.5" cy="246.4" r="4.7" fill="url(#b1)"/>
<circle cx="172.0" cy="242.0" r="5.0" fill="url(#b2)"/>
<circle cx="157.1" cy="250.8" r="4.9" fill="url(#b1)"/>
<circle cx="60.0" cy="256.0" r="4.5" fill="url(#b1)"/>
<circle cx="117.8" cy="258.6" r="4.9" fill="url(#b1)"/>
<circle cx="124.8" cy="258.6" r="4.4" fill="url(#b1)"/>
<circle cx="136.1" cy="254.2" r="4.6" fill="url(#b1)"/>
<circle cx="141.4" cy="252.5" r="4.8" fill="url(#b2)"/>
<circle cx="147.5" cy="254.2" r="4.8" fill="url(#b1)"/>
<circle cx="152.8" cy="256.0" r="5.1" fill="url(#b2)"/>
<circle cx="53.9" cy="262.1" r="5.2" fill="url(#b1)"/>
<circle cx="60.0" cy="262.1" r="5.0" fill="url(#b1)"/>
<circle cx="119.5" cy="266.5" r="5.2" fill="url(#b1)"/>
<circle cx="127.4" cy="264.8" r="4.8" fill="url(#b2)"/>
<circle cx="133.5" cy="268.2" r="4.6" fill="url(#b1)"/>
<circle cx="149.2" cy="262.1" r="5.1" fill="url(#b1)"/>
<circle cx="159.8" cy="263.0" r="4.4" fill="url(#b1)"/>
<circle cx="165.0" cy="264.8" r="4.7" fill="url(#b1)"/>
<circle cx="180.8" cy="263.9" r="5.1" fill="url(#b1)"/>
<circle cx="175.5" cy="268.2" r="4.6" fill="url(#b1)"/>
<circle cx="170.2" cy="270.9" r="4.8" fill="url(#b1)"/>
<circle cx="24.1" cy="273.5" r="4.9" fill="url(#b1)"/>
<circle cx="31.1" cy="272.6" r="4.7" fill="url(#b1)"/>
<circle cx="81.0" cy="274.9" r="5.3" fill="url(#b1)"/>
<circle cx="101.1" cy="270.9" r="4.4" fill="url(#b1)"/>
<circle cx="114.2" cy="270.0" r="5.1" fill="url(#b2)"/>
<circle cx="111.6" cy="276.1" r="4.4" fill="url(#b1)"/>
<circle cx="122.1" cy="274.4" r="4.8" fill="url(#b1)"/>
<circle cx="135.2" cy="271.8" r="5.2" fill="url(#b2)"/>
<circle cx="134.4" cy="279.6" r="4.6" fill="url(#b1)"/>
<circle cx="166.8" cy="277.9" r="4.9" fill="url(#b2)"/>
<circle cx="25.9" cy="281.4" r="4.5" fill="url(#b1)"/>
<circle cx="32.0" cy="287.5" r="4.4" fill="url(#b1)"/>
<circle cx="123.0" cy="281.4" r="4.3" fill="url(#b2)"/>
<circle cx="124.8" cy="287.1" r="4.8" fill="url(#b1)"/>
<circle cx="135.2" cy="287.5" r="4.4" fill="url(#b1)"/>
<circle cx="22.4" cy="288.4" r="4.8" fill="url(#b2)"/>
<circle cx="140.5" cy="292.8" r="4.8" fill="url(#b1)"/>
<circle cx="161.5" cy="297.1" r="5.3" fill="url(#b1)"/>
<circle cx="137.9" cy="298.9" r="4.8" fill="url(#b1)"/>
<circle cx="151.0" cy="300.6" r="4.6" fill="url(#b2)"/>
<circle cx="158.0" cy="301.5" r="4.4" fill="url(#b1)"/>
<circle cx="165.0" cy="300.6" r="4.9" fill="url(#b1)"/>
<circle cx="202.6" cy="237.6" r="5.1" fill="url(#b2)"/>
<circle cx="203.5" cy="242.0" r="5.2" fill="url(#b1)"/>
<circle cx="245.5" cy="240.2" r="4.5" fill="url(#b1)"/>
<circle cx="254.2" cy="240.2" r="4.7" fill="url(#b1)"/>
<circle cx="257.8" cy="236.8" r="4.5" fill="url(#b2)"/>
<circle cx="285.8" cy="237.6" r="4.5" fill="url(#b2)"/>
<circle cx="294.5" cy="240.2" r="5.2" fill="url(#b1)"/>
<circle cx="299.8" cy="236.8" r="5.2" fill="url(#b1)"/>
<circle cx="308.5" cy="237.6" r="4.5" fill="url(#b1)"/>
<circle cx="312.0" cy="243.8" r="4.3" fill="url(#b1)"/>
<circle cx="322.5" cy="240.2" r="4.7" fill="url(#b2)"/>
<circle cx="327.8" cy="244.6" r="5.1" fill="url(#b1)"/>
<circle cx="338.2" cy="237.6" r="4.7" fill="url(#b1)"/>
<circle cx="339.1" cy="243.8" r="4.5" fill="url(#b1)"/>
<circle cx="354.0" cy="236.8" r="4.6" fill="url(#b1)"/>
<circle cx="207.0" cy="249.0" r="4.6" fill="url(#b1)"/>
<circle cx="258.6" cy="247.2" r="4.5" fill="url(#b1)"/>
<circle cx="264.8" cy="246.4" r="4.9" fill="url(#b1)"/>
<circle cx="284.0" cy="246.4" r="5.0" fill="url(#b1)"/>
<circle cx="291.0" cy="246.4" r="5.0" fill="url(#b1)"/>
<circle cx="305.0" cy="248.1" r="4.5" fill="url(#b1)"/>
<circle cx="312.9" cy="249.9" r="4.7" fill="url(#b1)"/>
<circle cx="319.0" cy="247.2" r="4.9" fill="url(#b1)"/>
<circle cx="280.5" cy="252.5" r="4.7" fill="url(#b1)"/>
<circle cx="222.8" cy="256.0" r="5.1" fill="url(#b2)"/>
<circle cx="230.6" cy="254.2" r="4.8" fill="url(#b1)"/>
<circle cx="207.9" cy="260.4" r="4.6" fill="url(#b2)"/>
<circle cx="238.5" cy="259.5" r="5.0" fill="url(#b1)"/>
<circle cx="246.4" cy="256.0" r="5.1" fill="url(#b2)"/>
<circle cx="251.6" cy="255.1" r="4.6" fill="url(#b2)"/>
<circle cx="251.6" cy="261.2" r="4.8" fill="url(#b1)"/>
<circle cx="261.2" cy="260.4" r="5.0" fill="url(#b1)"/>
<circle cx="282.2" cy="255.1" r="5.0" fill="url(#b1)"/>
<circle cx="298.0" cy="256.0" r="4.4" fill="url(#b1)"/>
<circle cx="305.0" cy="256.0" r="5.2" fill="url(#b1)"/>
<circle cx="320.8" cy="254.2" r="4.8" fill="url(#b2)"/>
<circle cx="326.0" cy="254.2" r="4.7" fill="url(#b1)"/>
<circle cx="312.9" cy="261.2" r="4.9" fill="url(#b2)"/>
<circle cx="322.5" cy="260.4" r="4.5" fill="url(#b1)"/>
<circle cx="218.4" cy="263.9" r="5.1" fill="url(#b1)"/>
<circle cx="207.0" cy="268.2" r="4.6" fill="url(#b2)"/>
<circle cx="239.4" cy="267.4" r="5.2" fill="url(#b1)"/>
<circle cx="257.8" cy="263.9" r="5.3" fill="url(#b2)"/>
<circle cx="263.9" cy="266.5" r="5.0" fill="url(#b1)"/>
<circle cx="277.0" cy="265.6" r="4.3" fill="url(#b1)"/>
<circle cx="285.8" cy="268.2" r="5.0" fill="url(#b1)"/>
<circle cx="293.6" cy="267.4" r="4.8" fill="url(#b1)"/>
<circle cx="299.8" cy="265.6" r="4.5" fill="url(#b1)"/>
<circle cx="319.0" cy="265.6" r="4.9" fill="url(#b1)"/>
<circle cx="327.8" cy="267.4" r="4.4" fill="url(#b1)"/>
<circle cx="214.9" cy="272.6" r="4.6" fill="url(#b1)"/>
<circle cx="221.0" cy="271.8" r="4.5" fill="url(#b1)"/>
<circle cx="228.0" cy="273.5" r="4.5" fill="url(#b1)"/>
<circle cx="241.1" cy="274.4" r="4.9" fill="url(#b1)"/>
<circle cx="271.8" cy="270.9" r="4.4" fill="url(#b1)"/>
<circle cx="266.5" cy="274.4" r="4.5" fill="url(#b1)"/>
<circle cx="208.8" cy="277.0" r="4.5" fill="url(#b1)"/>
<circle cx="234.1" cy="278.8" r="4.8" fill="url(#b2)"/>
<circle cx="257.8" cy="277.0" r="5.2" fill="url(#b1)"/>
<circle cx="294.5" cy="277.9" r="4.7" fill="url(#b1)"/>
<circle cx="322.5" cy="280.5" r="4.6" fill="url(#b1)"/>
<circle cx="343.5" cy="275.2" r="5.2" fill="url(#b1)"/>
<circle cx="347.0" cy="272.6" r="5.2" fill="url(#b1)"/>
<circle cx="356.6" cy="277.9" r="4.7" fill="url(#b1)"/>
<circle cx="203.5" cy="281.4" r="5.3" fill="url(#b1)"/>
<circle cx="214.0" cy="285.8" r="4.9" fill="url(#b1)"/>
<circle cx="221.0" cy="282.2" r="4.5" fill="url(#b1)"/>
<circle cx="242.9" cy="284.0" r="5.3" fill="url(#b1)"/>
<circle cx="252.5" cy="286.6" r="5.0" fill="url(#b2)"/>
<circle cx="261.2" cy="284.0" r="4.4" fill="url(#b1)"/>
<circle cx="263.0" cy="280.5" r="5.1" fill="url(#b1)"/>
<circle cx="284.0" cy="285.8" r="4.8" fill="url(#b2)"/>
<circle cx="294.5" cy="284.0" r="4.6" fill="url(#b1)"/>
<circle cx="324.2" cy="286.6" r="4.5" fill="url(#b1)"/>
<circle cx="341.8" cy="283.1" r="4.6" fill="url(#b1)"/>
<circle cx="345.2" cy="285.8" r="4.7" fill="url(#b2)"/>
<circle cx="196.5" cy="291.0" r="5.0" fill="url(#b1)"/>
<circle cx="205.2" cy="291.0" r="5.0" fill="url(#b1)"/>
<circle cx="215.8" cy="293.6" r="5.1" fill="url(#b1)"/>
<circle cx="230.6" cy="291.0" r="4.8" fill="url(#b1)"/>
<circle cx="236.8" cy="292.8" r="4.7" fill="url(#b1)"/>
<circle cx="257.8" cy="292.8" r="4.5" fill="url(#b1)"/>
<circle cx="265.6" cy="291.0" r="4.5" fill="url(#b1)"/>
<circle cx="277.0" cy="291.0" r="4.8" fill="url(#b2)"/>
<circle cx="284.0" cy="292.8" r="5.1" fill="url(#b1)"/>
<circle cx="292.8" cy="291.9" r="4.7" fill="url(#b1)"/>
<circle cx="299.8" cy="288.4" r="4.9" fill="url(#b1)"/>
<circle cx="308.5" cy="291.0" r="5.2" fill="url(#b1)"/>
<circle cx="319.0" cy="292.8" r="4.5" fill="url(#b2)"/>
<circle cx="333.0" cy="291.0" r="5.0" fill="url(#b1)"/>
<circle cx="352.2" cy="290.1" r="5.0" fill="url(#b1)"/>
<circle cx="355.8" cy="292.8" r="4.8" fill="url(#b1)"/>
<circle cx="195.6" cy="297.1" r="4.9" fill="url(#b1)"/>
<circle cx="206.1" cy="298.9" r="4.4" fill="url(#b1)"/>
<circle cx="219.2" cy="297.1" r="5.2" fill="url(#b1)"/>
<circle cx="226.2" cy="300.6" r="4.3" fill="url(#b1)"/>
<circle cx="232.4" cy="296.2" r="5.1" fill="url(#b1)"/>
<circle cx="243.8" cy="295.4" r="4.8" fill="url(#b2)"/>
<circle cx="256.0" cy="298.0" r="4.9" fill="url(#b1)"/>
<circle cx="263.0" cy="299.8" r="5.0" fill="url(#b1)"/>
<circle cx="271.8" cy="298.9" r="4.6" fill="url(#b1)"/>
<circle cx="287.5" cy="298.9" r="4.5" fill="url(#b1)"/>
<circle cx="296.2" cy="300.6" r="4.8" fill="url(#b1)"/>
<circle cx="315.5" cy="300.6" r="5.3" fill="url(#b1)"/>
<circle cx="326.0" cy="297.1" r="5.1" fill="url(#b1)"/>
<circle cx="340.0" cy="296.2" r="5.1" fill="url(#b1)"/>
<circle cx="354.0" cy="299.8" r="5.0" fill="url(#b1)"/>
<circle cx="137.0" cy="305.5" r="4.5" fill="url(#b1)"/>
<circle cx="142.2" cy="304.6" r="5.1" fill="url(#b1)"/>
<circle cx="149.2" cy="303.8" r="4.5" fill="url(#b1)"/>
<circle cx="165.0" cy="305.5" r="4.4" fill="url(#b1)"/>
<circle cx="170.2" cy="308.1" r="4.9" fill="url(#b1)"/>
<circle cx="179.0" cy="309.9" r="4.9" fill="url(#b1)"/>
<circle cx="184.2" cy="304.6" r="4.3" fill="url(#b1)"/>
<circle cx="140.5" cy="316.9" r="4.6" fill="url(#b1)"/>
<circle cx="147.5" cy="312.5" r="4.9" fill="url(#b1)"/>
<circle cx="154.5" cy="316.0" r="5.1" fill="url(#b1)"/>
<circle cx="166.8" cy="312.5" r="5.0" fill="url(#b1)"/>
<circle cx="175.5" cy="315.1" r="4.8" fill="url(#b1)"/>
<circle cx="182.5" cy="316.0" r="4.6" fill="url(#b1)"/>
<circle cx="149.2" cy="321.2" r="5.1" fill="url(#b1)"/>
<circle cx="165.0" cy="324.8" r="4.4" fill="url(#b2)"/>
<circle cx="170.2" cy="324.8" r="4.9" fill="url(#b1)"/>
<circle cx="179.0" cy="326.5" r="4.7" fill="url(#b1)"/>
<circle cx="137.0" cy="334.4" r="5.3" fill="url(#b1)"/>
<circle cx="144.0" cy="331.8" r="4.7" fill="url(#b2)"/>
<circle cx="158.0" cy="330.9" r="4.4" fill="url(#b1)"/>
<circle cx="165.0" cy="334.4" r="4.8" fill="url(#b1)"/>
<circle cx="184.2" cy="334.4" r="5.2" fill="url(#b1)"/>
<circle cx="23.2" cy="343.1" r="4.3" fill="url(#b1)"/>
<circle cx="126.5" cy="339.6" r="4.3" fill="url(#b1)"/>
<circle cx="138.8" cy="343.1" r="5.2" fill="url(#b2)"/>
<circle cx="149.2" cy="341.4" r="4.3" fill="url(#b1)"/>
<circle cx="158.0" cy="339.6" r="4.6" fill="url(#b1)"/>
<circle cx="175.5" cy="342.2" r="4.6" fill="url(#b1)"/>
<circle cx="179.0" cy="338.8" r="4.4" fill="url(#b1)"/>
<circle cx="42.5" cy="348.4" r="4.4" fill="url(#b2)"/>
<circle cx="73.1" cy="349.2" r="4.3" fill="url(#b2)"/>
<circle cx="84.5" cy="352.8" r="4.5" fill="url(#b1)"/>
<circle cx="93.2" cy="351.0" r="5.0" fill="url(#b1)"/>
<circle cx="100.2" cy="347.5" r="5.1" fill="url(#b1)"/>
<circle cx="109.0" cy="348.4" r="4.9" fill="url(#b1)"/>
<circle cx="110.8" cy="352.8" r="5.0" fill="url(#b1)"/>
<circle cx="137.0" cy="349.2" r="5.3" fill="url(#b1)"/>
<circle cx="151.0" cy="348.4" r="4.4" fill="url(#b1)"/>
<circle cx="165.0" cy="351.0" r="5.2" fill="url(#b1)"/>
<circle cx="173.8" cy="350.1" r="5.0" fill="url(#b1)"/>
<circle cx="181.6" cy="350.1" r="4.7" fill="url(#b1)"/>
<circle cx="46.9" cy="354.5" r="4.9" fill="url(#b1)"/>
<circle cx="54.8" cy="359.8" r="4.6" fill="url(#b1)"/>
<circle cx="68.8" cy="357.1" r="4.6" fill="url(#b1)"/>
<circle cx="63.5" cy="362.4" r="4.6" fill="url(#b1)"/>
<circle cx="73.1" cy="353.6" r="5.0" fill="url(#b1)"/>
<circle cx="26.8" cy="362.4" r="5.3" fill="url(#b1)"/>
<circle cx="47.8" cy="362.4" r="4.5" fill="url(#b1)"/>
<circle cx="156.2" cy="363.2" r="4.4" fill="url(#b1)"/>
<circle cx="163.2" cy="358.0" r="4.9" fill="url(#b1)"/>
<circle cx="170.2" cy="354.5" r="4.5" fill="url(#b1)"/>
<circle cx="179.0" cy="356.2" r="4.4" fill="url(#b1)"/>
<circle cx="206.1" cy="309.0" r="4.8" fill="url(#b1)"/>
<circle cx="214.9" cy="309.0" r="5.2" fill="url(#b1)"/>
<circle cx="221.0" cy="305.5" r="4.6" fill="url(#b1)"/>
<circle cx="228.0" cy="302.9" r="4.3" fill="url(#b1)"/>
<circle cx="263.9" cy="310.8" r="5.1" fill="url(#b1)"/>
<circle cx="271.8" cy="302.9" r="5.0" fill="url(#b1)"/>
<circle cx="294.5" cy="309.9" r="4.5" fill="url(#b1)"/>
<circle cx="301.5" cy="309.0" r="4.5" fill="url(#b1)"/>
<circle cx="308.5" cy="308.1" r="4.9" fill="url(#b1)"/>
<circle cx="315.5" cy="303.8" r="4.4" fill="url(#b1)"/>
<circle cx="312.0" cy="311.6" r="4.8" fill="url(#b1)"/>
<circle cx="354.0" cy="303.8" r="4.8" fill="url(#b1)"/>
<circle cx="358.4" cy="309.0" r="4.5" fill="url(#b1)"/>
<circle cx="196.5" cy="317.8" r="4.9" fill="url(#b1)"/>
<circle cx="187.8" cy="321.2" r="5.2" fill="url(#b1)"/>
<circle cx="203.5" cy="322.1" r="5.2" fill="url(#b2)"/>
<circle cx="269.1" cy="318.6" r="5.0" fill="url(#b2)"/>
<circle cx="284.0" cy="315.1" r="4.4" fill="url(#b1)"/>
<circle cx="291.0" cy="316.9" r="5.2" fill="url(#b1)"/>
<circle cx="280.5" cy="321.2" r="4.9" fill="url(#b2)"/>
<circle cx="312.0" cy="318.6" r="4.6" fill="url(#b2)"/>
<circle cx="193.9" cy="329.1" r="5.2" fill="url(#b1)"/>
<circle cx="269.1" cy="324.8" r="4.4" fill="url(#b1)"/>
<circle cx="275.2" cy="324.8" r="5.1" fill="url(#b1)"/>
<circle cx="296.2" cy="323.0" r="4.6" fill="url(#b1)"/>
<circle cx="327.8" cy="329.1" r="5.2" fill="url(#b1)"/>
<circle cx="202.6" cy="332.6" r="4.3" fill="url(#b2)"/>
<circle cx="244.6" cy="337.9" r="4.6" fill="url(#b1)"/>
<circle cx="255.1" cy="337.0" r="5.3" fill="url(#b1)"/>
<circle cx="262.1" cy="334.4" r="4.4" fill="url(#b2)"/>
<circle cx="271.8" cy="334.4" r="4.5" fill="url(#b1)"/>
<circle cx="331.2" cy="333.5" r="5.2" fill="url(#b1)"/>
<circle cx="335.6" cy="336.1" r="5.2" fill="url(#b1)"/>
<circle cx="201.8" cy="338.8" r="4.6" fill="url(#b1)"/>
<circle cx="249.0" cy="340.5" r="4.8" fill="url(#b1)"/>
<circle cx="254.2" cy="344.0" r="4.7" fill="url(#b1)"/>
<circle cx="273.5" cy="339.6" r="4.6" fill="url(#b2)"/>
<circle cx="281.4" cy="344.9" r="5.2" fill="url(#b1)"/>
<circle cx="326.0" cy="341.4" r="5.1" fill="url(#b1)"/>
<circle cx="341.8" cy="344.0" r="4.6" fill="url(#b1)"/>
<circle cx="349.6" cy="341.4" r="4.5" fill="url(#b2)"/>
<circle cx="200.0" cy="346.6" r="5.2" fill="url(#b2)"/>
<circle cx="242.0" cy="349.2" r="4.9" fill="url(#b1)"/>
<circle cx="249.0" cy="348.4" r="4.7" fill="url(#b1)"/>
<circle cx="274.4" cy="349.2" r="5.2" fill="url(#b1)"/>
<circle cx="282.2" cy="352.8" r="4.6" fill="url(#b2)"/>
<circle cx="316.4" cy="352.8" r="4.5" fill="url(#b2)"/>
<circle cx="326.0" cy="349.2" r="4.6" fill="url(#b1)"/>
<circle cx="189.5" cy="352.8" r="4.4" fill="url(#b2)"/>
<circle cx="210.5" cy="353.6" r="4.7" fill="url(#b1)"/>
<circle cx="189.5" cy="359.8" r="5.0" fill="url(#b1)"/>
<circle cx="197.4" cy="358.0" r="4.6" fill="url(#b1)"/>
<circle cx="204.4" cy="354.5" r="4.9" fill="url(#b1)"/>
<circle cx="210.5" cy="361.5" r="5.2" fill="url(#b1)"/>
<circle cx="228.0" cy="357.1" r="4.5" fill="url(#b1)"/>
<circle cx="235.0" cy="357.1" r="4.4" fill="url(#b1)"/>
<circle cx="243.8" cy="360.6" r="4.8" fill="url(#b1)"/>
<circle cx="256.0" cy="358.9" r="4.6" fill="url(#b1)"/>
<circle cx="268.2" cy="363.2" r="4.8" fill="url(#b1)"/>
<circle cx="282.2" cy="360.6" r="4.7" fill="url(#b1)"/>
<circle cx="291.0" cy="358.0" r="4.8" fill="url(#b1)"/>
<circle cx="296.2" cy="361.5" r="4.5" fill="url(#b2)"/>
<circle cx="314.6" cy="359.8" r="4.8" fill="url(#b1)"/>
<circle cx="333.0" cy="358.0" r="4.8" fill="url(#b2)"/>
<circle cx="340.0" cy="354.5" r="4.7" fill="url(#b1)"/>
<circle cx="348.8" cy="357.1" r="4.7" fill="url(#b1)"/>
<circle cx="354.0" cy="358.9" r="4.8" fill="url(#b1)"/>
<circle cx="340.0" cy="362.4" r="4.8" fill="url(#b1)"/>
<circle cx="25.6" cy="137.8" r="4.8" fill="url(#b1)"/>
<circle cx="22.1" cy="145.6" r="4.5" fill="url(#b2)"/>
<circle cx="28.2" cy="150.8" r="4.4" fill="url(#b2)"/>
<circle cx="34.3" cy="149.0" r="4.5" fill="url(#b1)"/>
<circle cx="42.0" cy="147.3" r="4.6" fill="url(#b1)"/>
<circle cx="49.0" cy="137.0" r="4.8" fill="url(#b2)"/>
<circle cx="47.3" cy="143.9" r="5.1" fill="url(#b2)"/>
<circle cx="56.8" cy="142.1" r="5.3" fill="url(#b1)"/>
<circle cx="59.4" cy="147.3" r="4.7" fill="url(#b1)"/>
<circle cx="67.2" cy="147.3" r="5.1" fill="url(#b1)"/>
<circle cx="49.9" cy="156.0" r="5.0" fill="url(#b1)"/>
<circle cx="60.3" cy="156.9" r="5.3" fill="url(#b1)"/>
<circle cx="67.2" cy="156.0" r="5.2" fill="url(#b1)"/>
<circle cx="31.7" cy="160.3" r="4.4" fill="url(#b2)"/>
<circle cx="37.7" cy="163.8" r="4.4" fill="url(#b1)"/>
<circle cx="49.9" cy="162.0" r="5.1" fill="url(#b1)"/>
<circle cx="52.5" cy="167.3" r="5.0" fill="url(#b1)"/>
<circle cx="56.8" cy="169.0" r="4.5" fill="url(#b1)"/>
<circle cx="65.5" cy="165.5" r="4.3" fill="url(#b1)"/>
<circle cx="31.7" cy="170.7" r="5.2" fill="url(#b1)"/>
<circle cx="22.1" cy="175.0" r="5.0" fill="url(#b1)"/>
<circle cx="36.9" cy="175.0" r="4.9" fill="url(#b1)"/>
<circle cx="58.5" cy="178.5" r="5.0" fill="url(#b1)"/>
<circle cx="40.3" cy="182.0" r="4.5" fill="url(#b1)"/>
<circle cx="27.3" cy="182.0" r="5.3" fill="url(#b1)"/>
<circle cx="49.0" cy="185.5" r="4.9" fill="url(#b1)"/>
<circle cx="32.5" cy="187.2" r="5.1" fill="url(#b1)"/>
<circle cx="41.2" cy="188.0" r="4.8" fill="url(#b1)"/>
<circle cx="55.0" cy="189.8" r="4.4" fill="url(#b1)"/>
<circle cx="27.3" cy="191.5" r="5.1" fill="url(#b2)"/>
<circle cx="36.0" cy="195.9" r="4.6" fill="url(#b1)"/>
<circle cx="44.7" cy="195.0" r="4.5" fill="url(#b2)"/>
<circle cx="60.3" cy="194.1" r="4.7" fill="url(#b1)"/>
<circle cx="67.2" cy="197.6" r="4.8" fill="url(#b1)"/>
<circle cx="22.2" cy="301.2" r="4.6" fill="url(#b1)"/>
<circle cx="29.8" cy="306.2" r="5.1" fill="url(#b1)"/>
<circle cx="39.8" cy="292.5" r="4.6" fill="url(#b1)"/>
<circle cx="41.0" cy="300.0" r="5.2" fill="url(#b1)"/>
<circle cx="37.9" cy="311.9" r="4.9" fill="url(#b1)"/>
<circle cx="31.0" cy="318.8" r="5.3" fill="url(#b1)"/>
<circle cx="49.8" cy="293.8" r="4.5" fill="url(#b1)"/>
<circle cx="49.8" cy="305.0" r="4.7" fill="url(#b1)"/>
<circle cx="56.0" cy="300.0" r="4.7" fill="url(#b2)"/>
<circle cx="63.5" cy="291.3" r="4.9" fill="url(#b1)"/>
<circle cx="66.0" cy="296.3" r="5.0" fill="url(#b1)"/>
<circle cx="72.3" cy="293.8" r="4.9" fill="url(#b1)"/>
<circle cx="79.8" cy="298.8" r="4.8" fill="url(#b1)"/>
<circle cx="66.0" cy="302.5" r="5.1" fill="url(#b1)"/>
<circle cx="62.3" cy="315.0" r="5.1" fill="url(#b1)"/>
<circle cx="78.5" cy="306.9" r="5.1" fill="url(#b1)"/>
<circle cx="88.5" cy="303.8" r="4.8" fill="url(#b1)"/>
<circle cx="91.0" cy="308.8" r="5.0" fill="url(#b1)"/>
<circle cx="97.3" cy="308.8" r="4.6" fill="url(#b1)"/>
<circle cx="86.0" cy="313.8" r="4.9" fill="url(#b1)"/>
<circle cx="114.8" cy="293.8" r="4.3" fill="url(#b1)"/>
<circle cx="121.0" cy="292.5" r="4.5" fill="url(#b2)"/>
<circle cx="117.3" cy="301.3" r="4.8" fill="url(#b1)"/>
<circle cx="111.0" cy="301.3" r="4.6" fill="url(#b1)"/>
<circle cx="109.8" cy="310.0" r="5.1" fill="url(#b1)"/>
<circle cx="124.8" cy="313.8" r="4.3" fill="url(#b1)"/>
<circle cx="132.3" cy="317.5" r="4.8" fill="url(#b1)"/>
<circle cx="121.0" cy="322.5" r="5.1" fill="url(#b1)"/>
<circle cx="128.5" cy="328.8" r="4.6" fill="url(#b1)"/>
<circle cx="131.0" cy="335.0" r="4.9" fill="url(#b1)"/>
<circle cx="26.0" cy="325.0" r="5.2" fill="url(#b1)"/>
<circle cx="28.5" cy="331.3" r="4.6" fill="url(#b1)"/>
<circle cx="36.0" cy="335.0" r="4.9" fill="url(#b1)"/>
<circle cx="101.0" cy="336.0" r="4.8" fill="url(#b1)"/>
<circle cx="124.7" cy="287.2" r="4.5" fill="url(#b3)"/>
<circle cx="163.5" cy="141.4" r="4.5" fill="url(#b3)"/>
<rect x="11" y="34.6" width="349" height="1.4" fill="#701000" opacity="0.75"/>
</g>
<text x="296.8" y="65.6" font-size="24.3" textLength="52.2" lengthAdjust="spacingAndGlyphs" fill="#fff">NP-1</text>
<text x="46.3" y="326.7" font-size="25" textLength="71" lengthAdjust="spacingAndGlyphs" fill="#fff" style="font-family:'Liberation Serif',serif">3.0μm</text>
<g fill="#fff">
<rect x="46" y="330" width="69.6" height="3.6"/>
<rect x="46" y="330" width="2.2" height="12.4"/>
<rect x="113.4" y="330" width="2.2" height="12.4"/>
<rect x="62" y="330" width="2" height="10"/>
<rect x="79" y="330" width="2" height="10"/>
<rect x="96.4" y="330" width="2" height="10"/>
<rect x="83.2" y="326.5" width="1.4" height="4"/>
</g>
<!-- colorbar -->
<rect x="401" y="34.5" width="48.5" height="331" fill="url(#cb)" stroke="#1a1a1a" stroke-width="1.4"/>
<g stroke="#1a1a1a" stroke-width="1.4">
<line x1="377" y1="34.5" x2="401" y2="34.5"/>
<line x1="389" y1="88.8" x2="401" y2="88.8"/>
<line x1="389" y1="144.3" x2="401" y2="144.3"/>
<line x1="377" y1="199.5" x2="401" y2="199.5"/>
<line x1="389" y1="254.6" x2="401" y2="254.6"/>
<line x1="389" y1="309.9" x2="401" y2="309.9"/>
<line x1="377" y1="365.5" x2="401" y2="365.5"/>
</g>
<text x="386" y="21.5" font-size="17.6" textLength="70" lengthAdjust="spacingAndGlyphs" fill="#000">26.35 nm</text>
<text x="397.2" y="393.6" font-size="17.4" textLength="60.3" lengthAdjust="spacingAndGlyphs" fill="#000">0.00 nm</text>
<!-- chart -->
<g font-size="12" fill="#1a1a1a" stroke="#1a1a1a" stroke-width="0.3">
<rect x="532" y="26.4" width="445.4" height="309.6" fill="none" stroke="#3c3c3c" stroke-width="1.6"/>
<line x1="527.5" y1="331.0" x2="532" y2="331.0" stroke="#3c3c3c" stroke-width="1.6"/>
<text x="521" y="335.3" text-anchor="end">0</text>
<line x1="527.5" y1="280.2" x2="532" y2="280.2" stroke="#3c3c3c" stroke-width="1.6"/>
<text x="521" y="284.5" text-anchor="end">5</text>
<line x1="527.5" y1="229.4" x2="532" y2="229.4" stroke="#3c3c3c" stroke-width="1.6"/>
<text x="521" y="233.7" text-anchor="end">10</text>
<line x1="527.5" y1="178.6" x2="532" y2="178.6" stroke="#3c3c3c" stroke-width="1.6"/>
<text x="521" y="182.9" text-anchor="end">15</text>
<line x1="527.5" y1="127.9" x2="532" y2="127.9" stroke="#3c3c3c" stroke-width="1.6"/>
<text x="521" y="132.2" text-anchor="end">20</text>
<line x1="527.5" y1="77.1" x2="532" y2="77.1" stroke="#3c3c3c" stroke-width="1.6"/>
<text x="521" y="81.4" text-anchor="end">25</text>
<line x1="527.5" y1="26.3" x2="532" y2="26.3" stroke="#3c3c3c" stroke-width="1.6"/>
<text x="521" y="30.6" text-anchor="end">30</text>
<line x1="590.4" y1="336" x2="590.4" y2="340.5" stroke="#3c3c3c" stroke-width="1.6"/>
<text x="590.4" y="357.6" text-anchor="middle">0</text>
<line x1="654.9" y1="336" x2="654.9" y2="340.5" stroke="#3c3c3c" stroke-width="1.6"/>
<text x="654.9" y="357.6" text-anchor="middle">5</text>
<line x1="719.4" y1="336" x2="719.4" y2="340.5" stroke="#3c3c3c" stroke-width="1.6"/>
<text x="719.4" y="357.6" text-anchor="middle">10</text>
<line x1="783.9" y1="336" x2="783.9" y2="340.5" stroke="#3c3c3c" stroke-width="1.6"/>
<text x="783.9" y="357.6" text-anchor="middle">15</text>
<line x1="848.4" y1="336" x2="848.4" y2="340.5" stroke="#3c3c3c" stroke-width="1.6"/>
<text x="848.4" y="357.6" text-anchor="middle">20</text>
<line x1="912.9" y1="336" x2="912.9" y2="340.5" stroke="#3c3c3c" stroke-width="1.6"/>
<text x="912.9" y="357.6" text-anchor="middle">25</text>
<line x1="977.4" y1="336" x2="977.4" y2="340.5" stroke="#3c3c3c" stroke-width="1.6"/>
<text x="977.4" y="357.6" text-anchor="middle">30</text>
</g>
<text transform="translate(495.6,231.8) rotate(-90)" font-size="14" textLength="101.8" lengthAdjust="spacingAndGlyphs" fill="#2a2a2a">Percentage (%)</text>
<text x="722" y="384.6" font-size="15.3" textLength="64.5" lengthAdjust="spacingAndGlyphs" fill="#1a1a1a" stroke="#1a1a1a" stroke-width="0.15">Size (nm)</text>
<polyline points="602.2,311.6 614.2,306 626.2,306 638.2,305 650.2,279.3 662.2,227.7 674.2,155 686.2,69.5 698.2,111.2 710.2,242 722.2,314.4 734.2,329.3 746.2,330.5 758.2,331 770.2,331 782.2,331 794.2,331" fill="none" stroke="#ff3434" stroke-width="1.55" stroke-linejoin="round"/>
<rect x="598.2" y="307.6" width="8" height="8" fill="#ff0000"/>
<rect x="610.2" y="302.0" width="8" height="8" fill="#ff0000"/>
<rect x="622.2" y="302.0" width="8" height="8" fill="#ff0000"/>
<rect x="634.2" y="301.0" width="8" height="8" fill="#ff0000"/>
<rect x="646.2" y="275.3" width="8" height="8" fill="#ff0000"/>
<rect x="658.2" y="223.7" width="8" height="8" fill="#ff0000"/>
<rect x="670.2" y="151.0" width="8" height="8" fill="#ff0000"/>
<rect x="682.2" y="65.5" width="8" height="8" fill="#ff0000"/>
<rect x="694.2" y="107.2" width="8" height="8" fill="#ff0000"/>
<rect x="706.2" y="238.0" width="8" height="8" fill="#ff0000"/>
<rect x="718.2" y="310.4" width="8" height="8" fill="#ff0000"/>
<rect x="730.2" y="325.3" width="8" height="8" fill="#ff0000"/>
<rect x="742.2" y="326.5" width="8" height="8" fill="#ff0000"/>
<rect x="754.2" y="327.0" width="8" height="8" fill="#ff0000"/>
<rect x="766.2" y="327.0" width="8" height="8" fill="#ff0000"/>
<rect x="778.2" y="327.0" width="8" height="8" fill="#ff0000"/>
<rect x="790.2" y="327.0" width="8" height="8" fill="#ff0000"/>
<polyline points="616.2,248.4 629.1,250.3 642.0,235.2 654.9,221.2 667.8,225 680.7,240.6 693.6,235.2 706.5,245.9 719.4,255.8 732.3,265.1 745.2,295.1 758.1,302.6 771.0,308.2 783.9,321 796.8,315 809.7,326.3 822.6,327.7 835.5,327.3 848.4,329.6 861.3,330.7 874.2,328.6 887.1,330.6 900.0,330.6 912.9,331" fill="none" stroke="#34ff34" stroke-width="1.6" stroke-linejoin="round"/>
<circle cx="616.2" cy="248.4" r="4.25" fill="#00ff00"/>
<circle cx="629.1" cy="250.3" r="4.25" fill="#00ff00"/>
<circle cx="642.0" cy="235.2" r="4.25" fill="#00ff00"/>
<circle cx="654.9" cy="221.2" r="4.25" fill="#00ff00"/>
<circle cx="667.8" cy="225" r="4.25" fill="#00ff00"/>
<circle cx="680.7" cy="240.6" r="4.25" fill="#00ff00"/>
<circle cx="693.6" cy="235.2" r="4.25" fill="#00ff00"/>
<circle cx="706.5" cy="245.9" r="4.25" fill="#00ff00"/>
<circle cx="719.4" cy="255.8" r="4.25" fill="#00ff00"/>
<circle cx="732.3" cy="265.1" r="4.25" fill="#00ff00"/>
<circle cx="745.2" cy="295.1" r="4.25" fill="#00ff00"/>
<circle cx="758.1" cy="302.6" r="4.25" fill="#00ff00"/>
<circle cx="771.0" cy="308.2" r="4.25" fill="#00ff00"/>
<circle cx="783.9" cy="321" r="4.25" fill="#00ff00"/>
<circle cx="796.8" cy="315" r="4.25" fill="#00ff00"/>
<circle cx="809.7" cy="326.3" r="4.25" fill="#00ff00"/>
<circle cx="822.6" cy="327.7" r="4.25" fill="#00ff00"/>
<circle cx="835.5" cy="327.3" r="4.25" fill="#00ff00"/>
<circle cx="848.4" cy="329.6" r="4.25" fill="#00ff00"/>
<circle cx="861.3" cy="330.7" r="4.25" fill="#00ff00"/>
<circle cx="874.2" cy="328.6" r="4.25" fill="#00ff00"/>
<circle cx="887.1" cy="330.6" r="4.25" fill="#00ff00"/>
<circle cx="900.0" cy="330.6" r="4.25" fill="#00ff00"/>
<circle cx="912.9" cy="331" r="4.25" fill="#00ff00"/>
<!-- legend -->
<line x1="904.5" y1="49.5" x2="933" y2="49.5" stroke="#ff2a2a" stroke-width="1.5"/>
<rect x="914.6" y="45.5" width="8" height="8" fill="#ff0000"/>
<line x1="904.5" y1="65" x2="933" y2="65" stroke="#2aff2a" stroke-width="1.5"/>
<circle cx="918.5" cy="65" r="4.2" fill="#00ff00"/>
<text x="939.5" y="53.5" font-size="12" font-weight="bold" fill="#111">NP-1</text>
<text x="939.5" y="69.2" font-size="12" font-weight="bold" fill="#111">NP-2</text>
</svg>
</body></html>
